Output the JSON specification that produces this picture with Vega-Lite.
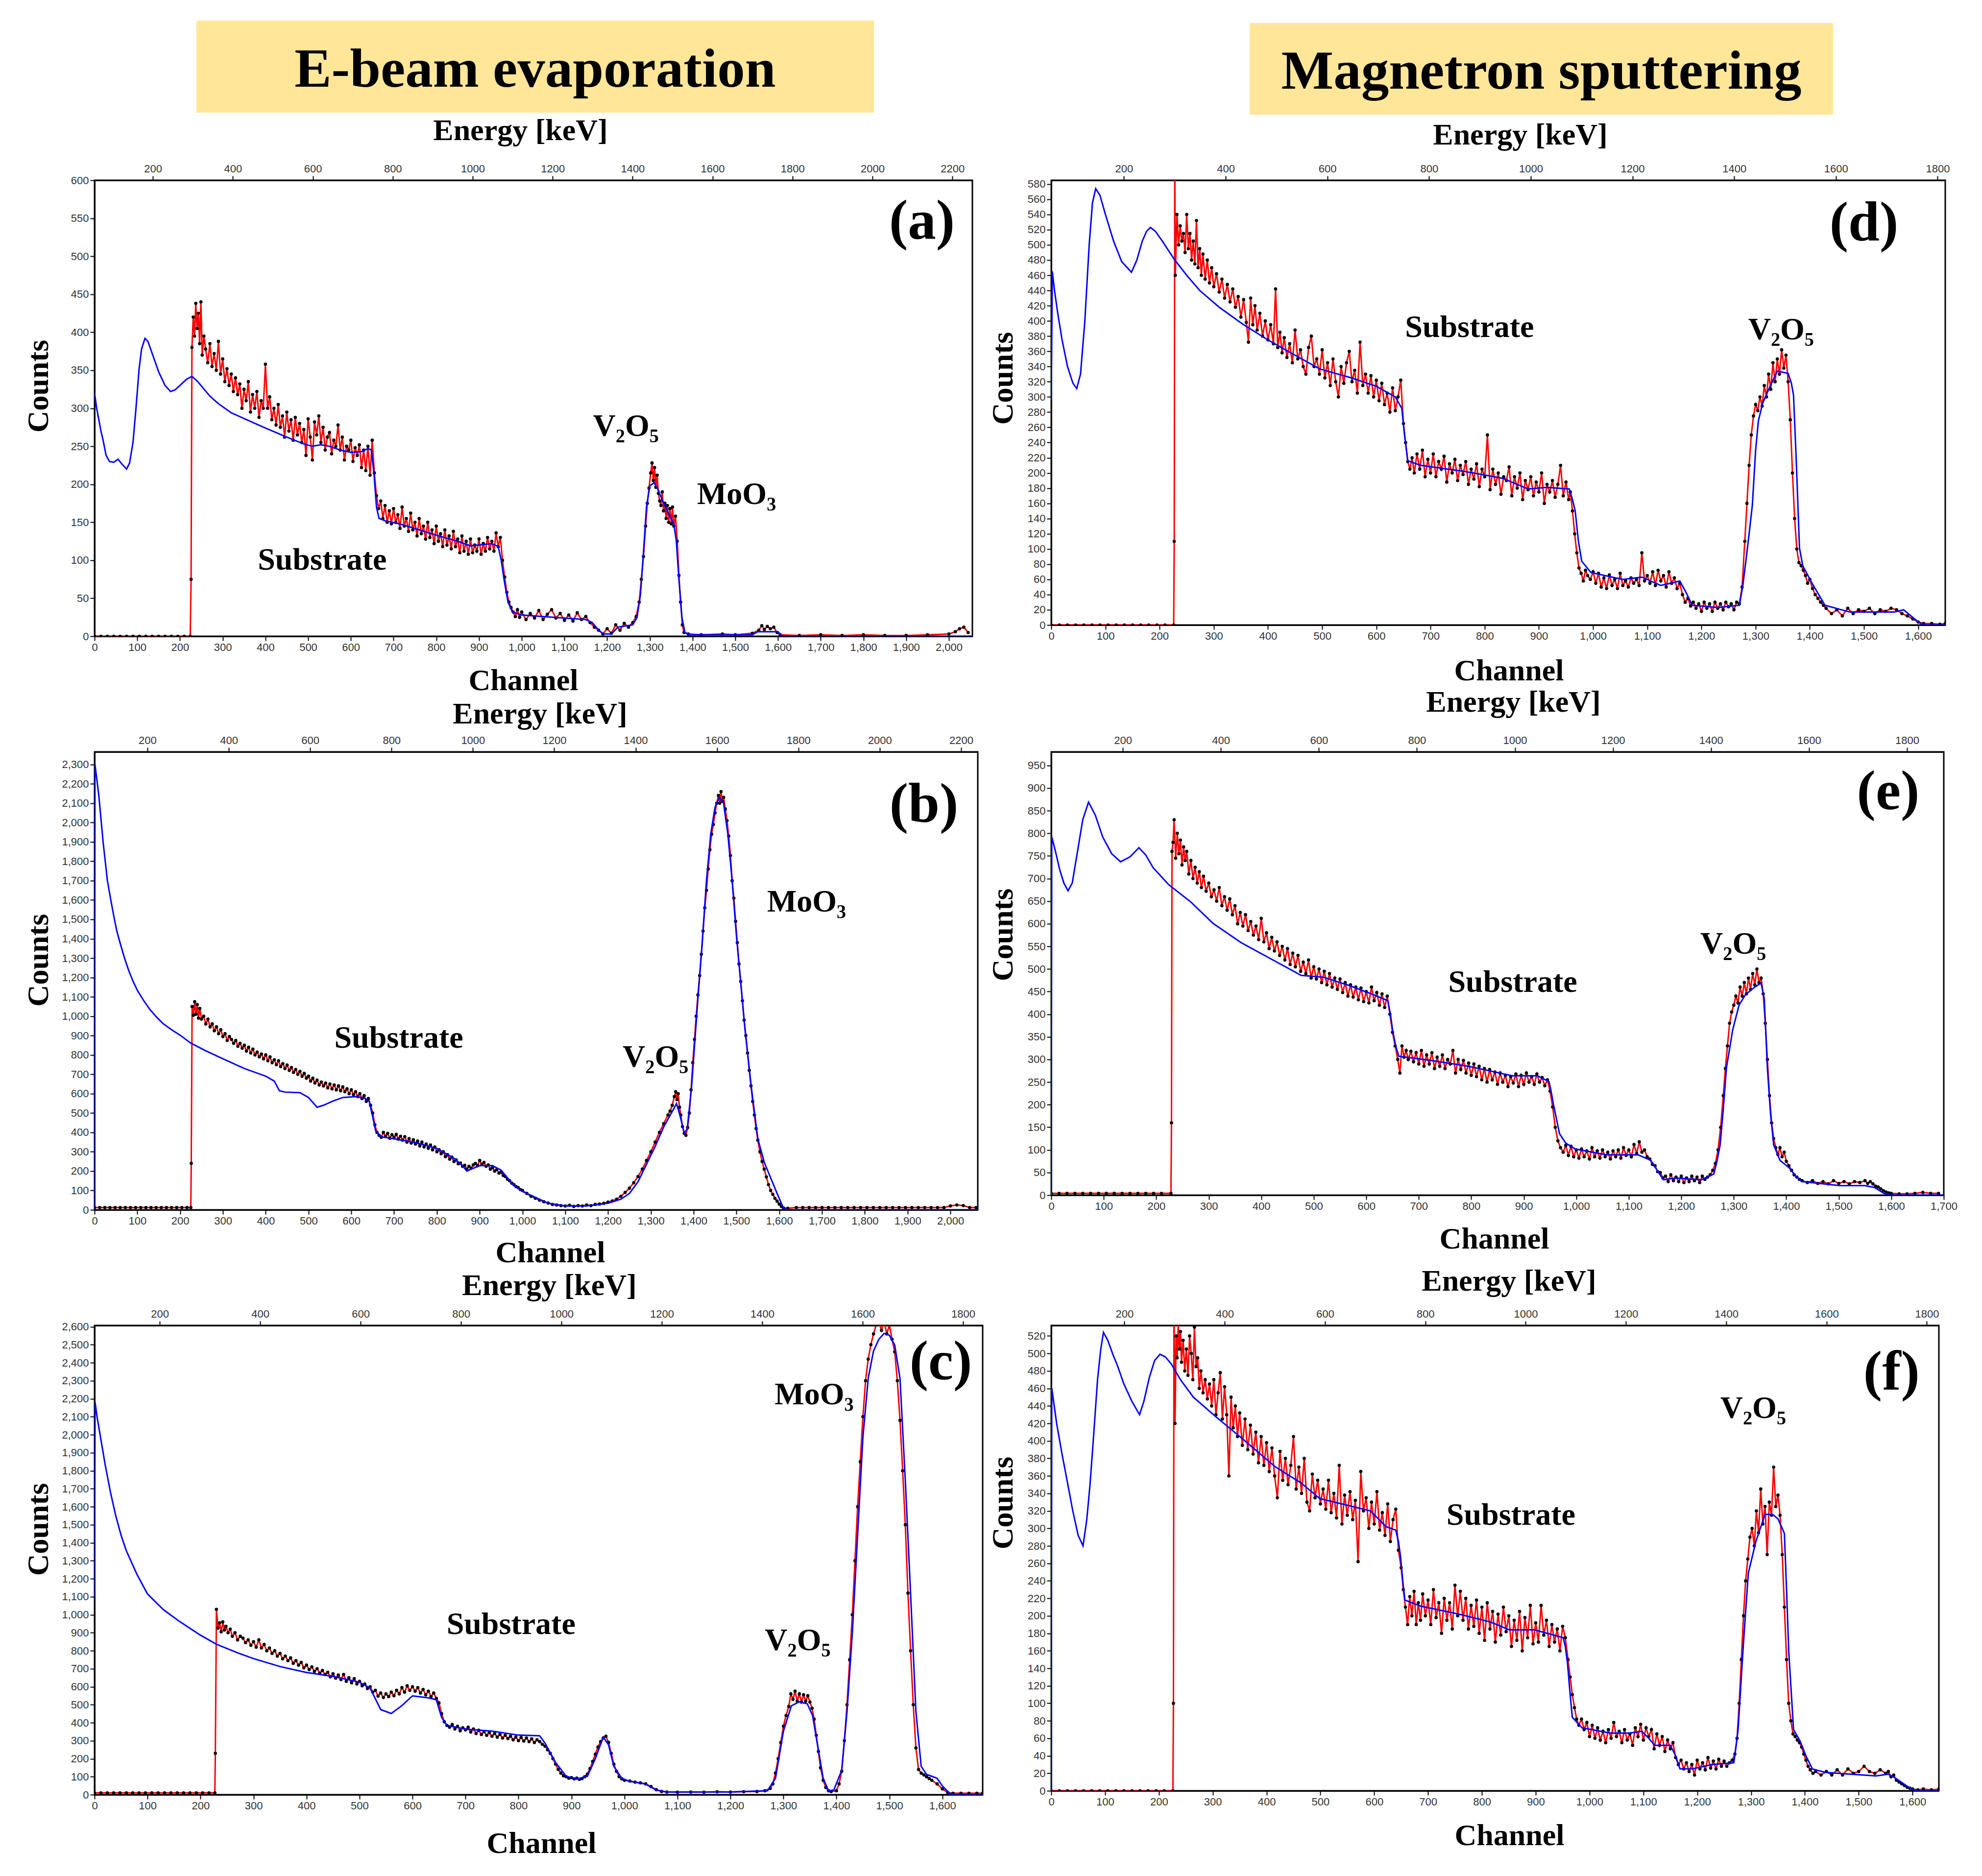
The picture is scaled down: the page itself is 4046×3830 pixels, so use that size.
{
  "$schema": "https://vega.github.io/schema/vega-lite/v6.json",
  "description": "RBS spectra: E-beam evaporation (a-c) vs magnetron sputtering (d-f)",
  "background": "white",
  "padding": {"left": 45, "top": 42, "right": 5, "bottom": 5},
  "columns": 2,
  "align": "each",
  "bounds": "flush",
  "spacing": {"row": 236, "column": 140},
  "concat": [
    {
      "width": 1813,
      "height": 90,
      "view": {"stroke": null},
      "layer": [
        {
          "data": {"values": [{}]},
          "mark": {"type": "rect", "color": "#FFE699"},
          "encoding": {
            "x": {"datum": 0.1147, "type": "quantitative", "scale": {"domain": [0, 1], "nice": false, "zero": false}, "axis": null},
            "x2": {"datum": 0.8776},
            "y": {"datum": 1, "type": "quantitative", "scale": {"domain": [0, 1], "nice": false, "zero": false}, "axis": null},
            "y2": {"datum": -1.089}
          }
        },
        {
          "data": {"values": [{"heading": "E-beam evaporation"}]},
          "mark": {"type": "text", "fontSize": 113, "baseline": "alphabetic"},
          "encoding": {
            "x": {"datum": 0.4961, "type": "quantitative"},
            "y": {"datum": -0.5, "type": "quantitative"},
            "text": {"field": "heading"}
          }
        }
      ]
    },
    {
      "width": 1825,
      "height": 90,
      "view": {"stroke": null},
      "layer": [
        {
          "data": {"values": [{}]},
          "mark": {"type": "rect", "color": "#FFE699"},
          "encoding": {
            "x": {"datum": 0.2219, "type": "quantitative", "scale": {"domain": [0, 1], "nice": false, "zero": false}, "axis": null},
            "x2": {"datum": 0.8745},
            "y": {"datum": 0.944, "type": "quantitative", "scale": {"domain": [0, 1], "nice": false, "zero": false}, "axis": null},
            "y2": {"datum": -1.133}
          }
        },
        {
          "data": {"values": [{"heading": "Magnetron sputtering"}]},
          "mark": {"type": "text", "fontSize": 113, "baseline": "alphabetic"},
          "encoding": {
            "x": {"datum": 0.5482, "type": "quantitative"},
            "y": {"datum": -0.544, "type": "quantitative"},
            "text": {"field": "heading"}
          }
        }
      ]
    },
    {
      "width": 1792,
      "height": 931,
      "layer": [
        {
          "encoding": {
            "x": {"field": "ch", "type": "quantitative", "scale": {"domain": [0, 2055], "nice": false, "zero": false},
              "axis": {"title": "Channel", "values": [0,100,200,300,400,500,600,700,800,900,1000,1100,1200,1300,1400,1500,1600,1700,1800,1900,2000], "format": ",d", "titleX": 875, "titleY": 109, "titleBaseline": "alphabetic"}},
            "y": {"field": "cts", "type": "quantitative", "scale": {"domain": [0, 600], "nice": false},
              "axis": {"title": "Counts", "values": [0,50,100,150,200,250,300,350,400,450,500,550,600], "format": ",d", "titleX": -96, "titleY": 420, "titleBaseline": "alphabetic"}}
          },
          "layer": [
            {"data": {"name": "a_exp"}, "mark": {"type": "line", "color": "#ff0000", "strokeWidth": 3, "clip": true}},
            {"data": {"name": "a_exp"}, "mark": {"type": "circle", "color": "#000000", "size": 45, "opacity": 1, "clip": true}},
            {"data": {"name": "a_sim"}, "mark": {"type": "line", "color": "#0000ff", "strokeWidth": 3, "clip": true}},
            {"data": {"name": "labels"}, "transform": [{"filter": "datum.panel === 'a' && datum.kind === 'note'"}], "mark": {"type": "text", "fontSize": 64}, "encoding": {"text": {"field": "label"}}},
            {"data": {"name": "labels"}, "transform": [{"filter": "datum.panel === 'a' && datum.kind === 'tag'"}], "mark": {"type": "text", "fontSize": 115}, "encoding": {"text": {"field": "label"}}}
          ]
        },
        {
          "data": {"values": [{}]},
          "mark": {"type": "rule", "opacity": 0},
          "encoding": {"x": {"datum": 1000, "type": "quantitative", "scale": {"domain": [54, 2250], "nice": false, "zero": false},
            "axis": {"orient": "top", "title": "Energy [keV]", "values": [200,400,600,800,1000,1200,1400,1600,1800,2000,2200], "format": "d", "titleX": 869, "titleY": -83, "titleBaseline": "alphabetic"}}}
        }
      ],
      "resolve": {"scale": {"x": "independent"}}
    },
    {
      "width": 1825,
      "height": 908,
      "layer": [
        {
          "encoding": {
            "x": {"field": "ch", "type": "quantitative", "scale": {"domain": [0, 1650], "nice": false, "zero": false},
              "axis": {"title": "Channel", "values": [0,100,200,300,400,500,600,700,800,900,1000,1100,1200,1300,1400,1500,1600], "format": ",d", "titleX": 934, "titleY": 112, "titleBaseline": "alphabetic"}},
            "y": {"field": "cts", "type": "quantitative", "scale": {"domain": [0, 585], "nice": false},
              "axis": {"title": "Counts", "values": [0,20,40,60,80,100,120,140,160,180,200,220,240,260,280,300,320,340,360,380,400,420,440,460,480,500,520,540,560,580], "format": ",d", "titleX": -80, "titleY": 404, "titleBaseline": "alphabetic"}}
          },
          "layer": [
            {"data": {"name": "d_exp"}, "mark": {"type": "line", "color": "#ff0000", "strokeWidth": 3, "clip": true}},
            {"data": {"name": "d_exp"}, "mark": {"type": "circle", "color": "#000000", "size": 45, "opacity": 1, "clip": true}},
            {"data": {"name": "d_sim"}, "mark": {"type": "line", "color": "#0000ff", "strokeWidth": 3, "clip": true}},
            {"data": {"name": "labels"}, "transform": [{"filter": "datum.panel === 'd' && datum.kind === 'note'"}], "mark": {"type": "text", "fontSize": 64}, "encoding": {"text": {"field": "label"}}},
            {"data": {"name": "labels"}, "transform": [{"filter": "datum.panel === 'd' && datum.kind === 'tag'"}], "mark": {"type": "text", "fontSize": 115}, "encoding": {"text": {"field": "label"}}}
          ]
        },
        {
          "data": {"values": [{}]},
          "mark": {"type": "rule", "opacity": 0},
          "encoding": {"x": {"datum": 1000, "type": "quantitative", "scale": {"domain": [57, 1815], "nice": false, "zero": false},
            "axis": {"orient": "top", "title": "Energy [keV]", "values": [200,400,600,800,1000,1200,1400,1600,1800], "format": "d", "titleX": 957, "titleY": -74, "titleBaseline": "alphabetic"}}}
        }
      ],
      "resolve": {"scale": {"x": "independent"}}
    },
    {
      "width": 1803,
      "height": 935,
      "layer": [
        {
          "encoding": {
            "x": {"field": "ch", "type": "quantitative", "scale": {"domain": [0, 2064], "nice": false, "zero": false},
              "axis": {"title": "Channel", "values": [0,100,200,300,400,500,600,700,800,900,1000,1100,1200,1300,1400,1500,1600,1700,1800,1900,2000], "format": ",d", "titleX": 930, "titleY": 106, "titleBaseline": "alphabetic"}},
            "y": {"field": "cts", "type": "quantitative", "scale": {"domain": [0, 2365], "nice": false},
              "axis": {"title": "Counts", "values": [0,100,200,300,400,500,600,700,800,900,1000,1100,1200,1300,1400,1500,1600,1700,1800,1900,2000,2100,2200,2300], "format": ",d", "titleX": -96, "titleY": 425, "titleBaseline": "alphabetic"}}
          },
          "layer": [
            {"data": {"name": "b_exp"}, "mark": {"type": "line", "color": "#ff0000", "strokeWidth": 3, "clip": true}},
            {"data": {"name": "b_exp"}, "mark": {"type": "circle", "color": "#000000", "size": 45, "opacity": 1, "clip": true}},
            {"data": {"name": "b_sim"}, "mark": {"type": "line", "color": "#0000ff", "strokeWidth": 3, "clip": true}},
            {"data": {"name": "labels"}, "transform": [{"filter": "datum.panel === 'b' && datum.kind === 'note'"}], "mark": {"type": "text", "fontSize": 64}, "encoding": {"text": {"field": "label"}}},
            {"data": {"name": "labels"}, "transform": [{"filter": "datum.panel === 'b' && datum.kind === 'tag'"}], "mark": {"type": "text", "fontSize": 115}, "encoding": {"text": {"field": "label"}}}
          ]
        },
        {
          "data": {"values": [{}]},
          "mark": {"type": "rule", "opacity": 0},
          "encoding": {"x": {"datum": 1000, "type": "quantitative", "scale": {"domain": [70, 2241], "nice": false, "zero": false},
            "axis": {"orient": "top", "title": "Energy [keV]", "values": [200,400,600,800,1000,1200,1400,1600,1800,2000,2200], "format": "d", "titleX": 909, "titleY": -59, "titleBaseline": "alphabetic"}}}
        }
      ],
      "resolve": {"scale": {"x": "independent"}}
    },
    {
      "width": 1822,
      "height": 905,
      "layer": [
        {
          "encoding": {
            "x": {"field": "ch", "type": "quantitative", "scale": {"domain": [0, 1700], "nice": false, "zero": false},
              "axis": {"title": "Channel", "values": [0,100,200,300,400,500,600,700,800,900,1000,1100,1200,1300,1400,1500,1600,1700], "format": ",d", "titleX": 904, "titleY": 108, "titleBaseline": "alphabetic"}},
            "y": {"field": "cts", "type": "quantitative", "scale": {"domain": [0, 980], "nice": false},
              "axis": {"title": "Counts", "values": [0,50,100,150,200,250,300,350,400,450,500,550,600,650,700,750,800,850,900,950], "format": ",d", "titleX": -80, "titleY": 373, "titleBaseline": "alphabetic"}}
          },
          "layer": [
            {"data": {"name": "e_exp"}, "mark": {"type": "line", "color": "#ff0000", "strokeWidth": 3, "clip": true}},
            {"data": {"name": "e_exp"}, "mark": {"type": "circle", "color": "#000000", "size": 45, "opacity": 1, "clip": true}},
            {"data": {"name": "e_sim"}, "mark": {"type": "line", "color": "#0000ff", "strokeWidth": 3, "clip": true}},
            {"data": {"name": "labels"}, "transform": [{"filter": "datum.panel === 'e' && datum.kind === 'note'"}], "mark": {"type": "text", "fontSize": 64}, "encoding": {"text": {"field": "label"}}},
            {"data": {"name": "labels"}, "transform": [{"filter": "datum.panel === 'e' && datum.kind === 'tag'"}], "mark": {"type": "text", "fontSize": 115}, "encoding": {"text": {"field": "label"}}}
          ]
        },
        {
          "data": {"values": [{}]},
          "mark": {"type": "rule", "opacity": 0},
          "encoding": {"x": {"datum": 1000, "type": "quantitative", "scale": {"domain": [54, 1875], "nice": false, "zero": false},
            "axis": {"orient": "top", "title": "Energy [keV]", "values": [200,400,600,800,1000,1200,1400,1600,1800], "format": "d", "titleX": 943, "titleY": -83, "titleBaseline": "alphabetic"}}}
        }
      ],
      "resolve": {"scale": {"x": "independent"}}
    },
    {
      "width": 1813,
      "height": 958,
      "layer": [
        {
          "encoding": {
            "x": {"field": "ch", "type": "quantitative", "scale": {"domain": [0, 1676], "nice": false, "zero": false},
              "axis": {"title": "Channel", "values": [0,100,200,300,400,500,600,700,800,900,1000,1100,1200,1300,1400,1500,1600], "format": ",d", "titleX": 912, "titleY": 118, "titleBaseline": "alphabetic"}},
            "y": {"field": "cts", "type": "quantitative", "scale": {"domain": [0, 2607], "nice": false},
              "axis": {"title": "Counts", "values": [0,100,200,300,400,500,600,700,800,900,1000,1100,1200,1300,1400,1500,1600,1700,1800,1900,2000,2100,2200,2300,2400,2500,2600], "format": ",d", "titleX": -96, "titleY": 416, "titleBaseline": "alphabetic"}}
          },
          "layer": [
            {"data": {"name": "c_exp"}, "mark": {"type": "line", "color": "#ff0000", "strokeWidth": 3, "clip": true}},
            {"data": {"name": "c_exp"}, "mark": {"type": "circle", "color": "#000000", "size": 45, "opacity": 1, "clip": true}},
            {"data": {"name": "c_sim"}, "mark": {"type": "line", "color": "#0000ff", "strokeWidth": 3, "clip": true}},
            {"data": {"name": "labels"}, "transform": [{"filter": "datum.panel === 'c' && datum.kind === 'note'"}], "mark": {"type": "text", "fontSize": 64}, "encoding": {"text": {"field": "label"}}},
            {"data": {"name": "labels"}, "transform": [{"filter": "datum.panel === 'c' && datum.kind === 'tag'"}], "mark": {"type": "text", "fontSize": 115}, "encoding": {"text": {"field": "label"}}}
          ]
        },
        {
          "data": {"values": [{}]},
          "mark": {"type": "rule", "opacity": 0},
          "encoding": {"x": {"datum": 1000, "type": "quantitative", "scale": {"domain": [70, 1839], "nice": false, "zero": false},
            "axis": {"orient": "top", "title": "Energy [keV]", "values": [200,400,600,800,1000,1200,1400,1600,1800], "format": "d", "titleX": 928, "titleY": -63, "titleBaseline": "alphabetic"}}}
        }
      ],
      "resolve": {"scale": {"x": "independent"}}
    },
    {
      "width": 1812,
      "height": 950,
      "layer": [
        {
          "encoding": {
            "x": {"field": "ch", "type": "quantitative", "scale": {"domain": [0, 1649], "nice": false, "zero": false},
              "axis": {"title": "Channel", "values": [0,100,200,300,400,500,600,700,800,900,1000,1100,1200,1300,1400,1500,1600], "format": ",d", "titleX": 935, "titleY": 110, "titleBaseline": "alphabetic"}},
            "y": {"field": "cts", "type": "quantitative", "scale": {"domain": [0, 532], "nice": false},
              "axis": {"title": "Counts", "values": [0,20,40,60,80,100,120,140,160,180,200,220,240,260,280,300,320,340,360,380,400,420,440,460,480,500,520], "format": ",d", "titleX": -80, "titleY": 362, "titleBaseline": "alphabetic"}}
          },
          "layer": [
            {"data": {"name": "f_exp"}, "mark": {"type": "line", "color": "#ff0000", "strokeWidth": 3, "clip": true}},
            {"data": {"name": "f_exp"}, "mark": {"type": "circle", "color": "#000000", "size": 45, "opacity": 1, "clip": true}},
            {"data": {"name": "f_sim"}, "mark": {"type": "line", "color": "#0000ff", "strokeWidth": 3, "clip": true}},
            {"data": {"name": "labels"}, "transform": [{"filter": "datum.panel === 'f' && datum.kind === 'note'"}], "mark": {"type": "text", "fontSize": 64}, "encoding": {"text": {"field": "label"}}},
            {"data": {"name": "labels"}, "transform": [{"filter": "datum.panel === 'f' && datum.kind === 'tag'"}], "mark": {"type": "text", "fontSize": 115}, "encoding": {"text": {"field": "label"}}}
          ]
        },
        {
          "data": {"values": [{}]},
          "mark": {"type": "rule", "opacity": 0},
          "encoding": {"x": {"datum": 1000, "type": "quantitative", "scale": {"domain": [54, 1824], "nice": false, "zero": false},
            "axis": {"orient": "top", "title": "Energy [keV]", "values": [200,400,600,800,1000,1200,1400,1600,1800], "format": "d", "titleX": 934, "titleY": -72, "titleBaseline": "alphabetic"}}}
        }
      ],
      "resolve": {"scale": {"x": "independent"}}
    }
  ],
  "datasets": {
    "labels": [
      {"panel": "a", "kind": "note", "label": "Substrate", "ch": 533, "cts": 100},
      {"panel": "a", "kind": "note", "label": "V₂O₅", "ch": 1244, "cts": 276},
      {"panel": "a", "kind": "note", "label": "MoO₃", "ch": 1503, "cts": 186},
      {"panel": "a", "kind": "tag", "label": "(a)", "ch": 1937, "cts": 546},
      {"panel": "b", "kind": "note", "label": "Substrate", "ch": 711, "cts": 885},
      {"panel": "b", "kind": "note", "label": "V₂O₅", "ch": 1311, "cts": 787},
      {"panel": "b", "kind": "note", "label": "MoO₃", "ch": 1664, "cts": 1589},
      {"panel": "b", "kind": "tag", "label": "(b)", "ch": 1938, "cts": 2092},
      {"panel": "c", "kind": "note", "label": "Substrate", "ch": 786, "cts": 945},
      {"panel": "c", "kind": "note", "label": "V₂O₅", "ch": 1327, "cts": 855},
      {"panel": "c", "kind": "note", "label": "MoO₃", "ch": 1358, "cts": 2221},
      {"panel": "c", "kind": "tag", "label": "(c)", "ch": 1597, "cts": 2404},
      {"panel": "d", "kind": "note", "label": "Substrate", "ch": 772, "cts": 391},
      {"panel": "d", "kind": "note", "label": "V₂O₅", "ch": 1347, "cts": 388},
      {"panel": "d", "kind": "tag", "label": "(d)", "ch": 1500, "cts": 528},
      {"panel": "e", "kind": "note", "label": "Substrate", "ch": 879, "cts": 470},
      {"panel": "e", "kind": "note", "label": "V₂O₅", "ch": 1299, "cts": 554},
      {"panel": "e", "kind": "tag", "label": "(e)", "ch": 1594, "cts": 891},
      {"panel": "f", "kind": "note", "label": "Substrate", "ch": 854, "cts": 315},
      {"panel": "f", "kind": "note", "label": "V₂O₅", "ch": 1304, "cts": 437},
      {"panel": "f", "kind": "tag", "label": "(f)", "ch": 1561, "cts": 478}
    ],
    "a_exp": [
      {"ch":0,"cts":0},{"ch":15,"cts":0},{"ch":30,"cts":0},{"ch":45,"cts":0},{"ch":60,"cts":0},{"ch":75,"cts":0},{"ch":90,"cts":0},{"ch":105,"cts":0},{"ch":120,"cts":0},{"ch":135,"cts":0},{"ch":150,"cts":0},{"ch":165,"cts":0},{"ch":180,"cts":0},{"ch":195,"cts":0},{"ch":210,"cts":0},{"ch":224,"cts":0},
      {"ch":226,"cts":75},{"ch":228,"cts":380},{"ch":231,"cts":420},{"ch":234,"cts":395},{"ch":237,"cts":438},{"ch":240,"cts":405},{"ch":243,"cts":425},{"ch":246,"cts":385},{"ch":249,"cts":440},{"ch":252,"cts":370},{"ch":256,"cts":395},{"ch":260,"cts":378},{"ch":265,"cts":360},{"ch":270,"cts":385},{"ch":275,"cts":355},{"ch":280,"cts":372},{"ch":285,"cts":350},{"ch":290,"cts":388},{"ch":295,"cts":345},{"ch":300,"cts":365},{"ch":305,"cts":335},{"ch":310,"cts":352},{"ch":315,"cts":330},{"ch":320,"cts":345},{"ch":325,"cts":322},{"ch":330,"cts":340},{"ch":335,"cts":318},{"ch":340,"cts":332},{"ch":345,"cts":300},{"ch":350,"cts":325},{"ch":355,"cts":310},{"ch":360,"cts":335},{"ch":365,"cts":295},{"ch":370,"cts":318},{"ch":375,"cts":300},{"ch":380,"cts":322},{"ch":385,"cts":288},{"ch":390,"cts":310},{"ch":395,"cts":300},{"ch":400,"cts":358},{"ch":405,"cts":300},{"ch":410,"cts":315},{"ch":415,"cts":285},{"ch":420,"cts":300},{"ch":425,"cts":278},{"ch":430,"cts":305},{"ch":435,"cts":275},{"ch":440,"cts":290},{"ch":445,"cts":262},{"ch":450,"cts":295},{"ch":455,"cts":270},{"ch":460,"cts":285},{"ch":465,"cts":258},{"ch":470,"cts":288},{"ch":475,"cts":265},{"ch":480,"cts":280},{"ch":485,"cts":255},{"ch":490,"cts":272},{"ch":495,"cts":238},{"ch":500,"cts":286},{"ch":505,"cts":262},{"ch":510,"cts":232},{"ch":515,"cts":282},{"ch":520,"cts":265},{"ch":525,"cts":290},{"ch":530,"cts":255},{"ch":535,"cts":275},{"ch":540,"cts":245},{"ch":545,"cts":262},{"ch":550,"cts":268},{"ch":555,"cts":240},{"ch":560,"cts":258},{"ch":565,"cts":250},{"ch":570,"cts":278},{"ch":575,"cts":245},{"ch":580,"cts":262},{"ch":585,"cts":232},{"ch":590,"cts":250},{"ch":595,"cts":245},{"ch":600,"cts":258},{"ch":605,"cts":230},{"ch":610,"cts":248},{"ch":615,"cts":238},{"ch":620,"cts":252},{"ch":625,"cts":222},{"ch":630,"cts":245},{"ch":635,"cts":218},{"ch":640,"cts":250},{"ch":645,"cts":212},{"ch":650,"cts":258},{"ch":655,"cts":215},{"ch":660,"cts":185},{"ch":665,"cts":168},{"ch":670,"cts":178},{"ch":675,"cts":155},{"ch":680,"cts":172},{"ch":685,"cts":150},{"ch":690,"cts":165},{"ch":695,"cts":148},{"ch":700,"cts":168},{"ch":705,"cts":150},{"ch":710,"cts":160},{"ch":715,"cts":142},{"ch":720,"cts":170},{"ch":725,"cts":145},{"ch":730,"cts":155},{"ch":735,"cts":138},{"ch":740,"cts":162},{"ch":745,"cts":140},{"ch":750,"cts":150},{"ch":755,"cts":132},{"ch":760,"cts":155},{"ch":765,"cts":135},{"ch":770,"cts":145},{"ch":775,"cts":128},{"ch":780,"cts":150},{"ch":785,"cts":130},{"ch":790,"cts":140},{"ch":795,"cts":122},{"ch":800,"cts":145},{"ch":805,"cts":125},{"ch":810,"cts":135},{"ch":815,"cts":118},{"ch":820,"cts":140},{"ch":825,"cts":120},{"ch":830,"cts":132},{"ch":835,"cts":115},{"ch":840,"cts":138},{"ch":845,"cts":118},{"ch":850,"cts":128},{"ch":855,"cts":110},{"ch":860,"cts":132},{"ch":865,"cts":112},{"ch":870,"cts":125},{"ch":875,"cts":108},{"ch":880,"cts":128},{"ch":885,"cts":110},{"ch":890,"cts":120},{"ch":895,"cts":112},{"ch":900,"cts":128},{"ch":905,"cts":108},{"ch":910,"cts":122},{"ch":915,"cts":112},{"ch":920,"cts":130},{"ch":925,"cts":115},{"ch":930,"cts":125},{"ch":935,"cts":112},{"ch":940,"cts":136},{"ch":945,"cts":118},{"ch":950,"cts":130},{"ch":955,"cts":100},{"ch":960,"cts":78},{"ch":965,"cts":58},{"ch":970,"cts":45},{"ch":975,"cts":38},{"ch":980,"cts":32},{"ch":985,"cts":26},{"ch":990,"cts":35},{"ch":995,"cts":25},{"ch":1000,"cts":32},{"ch":1010,"cts":22},{"ch":1020,"cts":30},{"ch":1030,"cts":24},{"ch":1040,"cts":34},{"ch":1050,"cts":22},{"ch":1060,"cts":29},{"ch":1070,"cts":35},{"ch":1080,"cts":24},{"ch":1090,"cts":30},{"ch":1100,"cts":21},{"ch":1110,"cts":28},{"ch":1120,"cts":20},{"ch":1130,"cts":31},{"ch":1140,"cts":22},{"ch":1150,"cts":26},{"ch":1160,"cts":18},{"ch":1170,"cts":12},{"ch":1180,"cts":8},{"ch":1190,"cts":3},{"ch":1200,"cts":10},{"ch":1210,"cts":4},{"ch":1220,"cts":15},{"ch":1230,"cts":8},{"ch":1240,"cts":17},{"ch":1250,"cts":12},{"ch":1260,"cts":18},{"ch":1268,"cts":26},{"ch":1275,"cts":45},{"ch":1280,"cts":75},{"ch":1285,"cts":105},{"ch":1290,"cts":145},{"ch":1294,"cts":175},{"ch":1298,"cts":195},{"ch":1302,"cts":215},{"ch":1305,"cts":228},{"ch":1308,"cts":205},{"ch":1311,"cts":222},{"ch":1314,"cts":196},{"ch":1317,"cts":212},{"ch":1320,"cts":188},{"ch":1323,"cts":178},{"ch":1326,"cts":172},{"ch":1329,"cts":190},{"ch":1332,"cts":165},{"ch":1335,"cts":175},{"ch":1338,"cts":155},{"ch":1341,"cts":172},{"ch":1344,"cts":150},{"ch":1347,"cts":168},{"ch":1350,"cts":148},{"ch":1353,"cts":170},{"ch":1356,"cts":145},{"ch":1360,"cts":158},{"ch":1364,"cts":125},{"ch":1368,"cts":80},{"ch":1372,"cts":45},{"ch":1376,"cts":15},{"ch":1380,"cts":5},{"ch":1390,"cts":3},{"ch":1420,"cts":2},{"ch":1470,"cts":3},{"ch":1500,"cts":2},{"ch":1540,"cts":4},{"ch":1555,"cts":8},{"ch":1562,"cts":14},{"ch":1568,"cts":9},{"ch":1575,"cts":13},{"ch":1582,"cts":10},{"ch":1590,"cts":12},{"ch":1598,"cts":5},{"ch":1605,"cts":2},{"ch":1650,"cts":1},{"ch":1700,"cts":2},{"ch":1750,"cts":1},{"ch":1800,"cts":2},{"ch":1850,"cts":1},{"ch":1900,"cts":1},{"ch":1950,"cts":2},{"ch":2000,"cts":3},{"ch":2015,"cts":6},{"ch":2025,"cts":10},{"ch":2035,"cts":12},{"ch":2045,"cts":5}
    ],
    "a_sim": [
      {"ch":0,"cts":320},{"ch":5,"cts":300},{"ch":10,"cts":285},{"ch":15,"cts":270},{"ch":20,"cts":258},{"ch":27,"cts":238},{"ch":35,"cts":230},{"ch":45,"cts":229},{"ch":55,"cts":233},{"ch":65,"cts":226},{"ch":75,"cts":220},{"ch":82,"cts":228},{"ch":90,"cts":255},{"ch":97,"cts":300},{"ch":104,"cts":350},{"ch":110,"cts":378},{"ch":118,"cts":392},{"ch":125,"cts":388},{"ch":135,"cts":372},{"ch":150,"cts":348},{"ch":165,"cts":330},{"ch":178,"cts":322},{"ch":188,"cts":324},{"ch":200,"cts":330},{"ch":215,"cts":338},{"ch":228,"cts":342},{"ch":240,"cts":336},{"ch":255,"cts":326},{"ch":270,"cts":316},{"ch":290,"cts":306},{"ch":320,"cts":294},{"ch":360,"cts":284},{"ch":400,"cts":274},{"ch":450,"cts":262},{"ch":490,"cts":253},{"ch":510,"cts":250},{"ch":530,"cts":252},{"ch":550,"cts":250},{"ch":575,"cts":245},{"ch":600,"cts":242},{"ch":625,"cts":243},{"ch":640,"cts":247},{"ch":648,"cts":245},{"ch":654,"cts":215},{"ch":660,"cts":170},{"ch":666,"cts":155},{"ch":680,"cts":152},{"ch":720,"cts":147},{"ch":760,"cts":140},{"ch":800,"cts":133},{"ch":850,"cts":125},{"ch":880,"cts":119},{"ch":900,"cts":120},{"ch":930,"cts":122},{"ch":945,"cts":118},{"ch":952,"cts":100},{"ch":960,"cts":70},{"ch":968,"cts":45},{"ch":978,"cts":32},{"ch":1000,"cts":28},{"ch":1050,"cts":26},{"ch":1100,"cts":24},{"ch":1150,"cts":22},{"ch":1165,"cts":18},{"ch":1180,"cts":8},{"ch":1192,"cts":3},{"ch":1210,"cts":3},{"ch":1225,"cts":12},{"ch":1260,"cts":15},{"ch":1270,"cts":25},{"ch":1278,"cts":55},{"ch":1285,"cts":110},{"ch":1292,"cts":170},{"ch":1300,"cts":198},{"ch":1310,"cts":202},{"ch":1320,"cts":192},{"ch":1330,"cts":178},{"ch":1345,"cts":160},{"ch":1356,"cts":148},{"ch":1362,"cts":125},{"ch":1368,"cts":75},{"ch":1375,"cts":25},{"ch":1382,"cts":5},{"ch":1395,"cts":2},{"ch":1540,"cts":2},{"ch":1552,"cts":6},{"ch":1600,"cts":6},{"ch":1608,"cts":1},{"ch":1620,"cts":0},{"ch":2055,"cts":0}
    ],
    "b_exp": [
      {"ch":0,"cts":12},{"ch":12,"cts":12},{"ch":24,"cts":12},{"ch":36,"cts":12},{"ch":48,"cts":12},{"ch":60,"cts":12},{"ch":72,"cts":12},{"ch":84,"cts":12},{"ch":96,"cts":12},{"ch":108,"cts":12},{"ch":120,"cts":12},{"ch":132,"cts":12},{"ch":144,"cts":12},{"ch":156,"cts":12},{"ch":168,"cts":12},{"ch":180,"cts":12},{"ch":192,"cts":12},{"ch":204,"cts":12},{"ch":216,"cts":12},{"ch":225,"cts":12},
      {"ch":226,"cts":240},{"ch":228,"cts":1050},{"ch":231,"cts":1005},{"ch":234,"cts":1075},{"ch":237,"cts":1010},{"ch":240,"cts":1060},{"ch":243,"cts":990},{"ch":246,"cts":1040},{"ch":250,"cts":985},{"ch":255,"cts":1000},{"ch":260,"cts":960},{"ch":265,"cts":985},{"ch":270,"cts":945},{"ch":275,"cts":960},{"ch":280,"cts":925},{"ch":285,"cts":945},{"ch":290,"cts":910},{"ch":295,"cts":930},{"ch":300,"cts":895},{"ch":305,"cts":910},{"ch":310,"cts":875},{"ch":315,"cts":895},{"ch":320,"cts":880},{"ch":325,"cts":860},{"ch":330,"cts":875},{"ch":335,"cts":845},{"ch":340,"cts":860},{"ch":345,"cts":835},{"ch":350,"cts":850},{"ch":355,"cts":820},{"ch":360,"cts":840},{"ch":365,"cts":810},{"ch":370,"cts":830},{"ch":375,"cts":800},{"ch":380,"cts":815},{"ch":385,"cts":790},{"ch":390,"cts":805},{"ch":395,"cts":780},{"ch":400,"cts":800},{"ch":405,"cts":770},{"ch":410,"cts":790},{"ch":415,"cts":760},{"ch":420,"cts":775},{"ch":425,"cts":750},{"ch":430,"cts":770},{"ch":435,"cts":740},{"ch":440,"cts":755},{"ch":445,"cts":730},{"ch":450,"cts":748},{"ch":455,"cts":720},{"ch":460,"cts":735},{"ch":465,"cts":710},{"ch":470,"cts":725},{"ch":475,"cts":700},{"ch":480,"cts":715},{"ch":485,"cts":690},{"ch":490,"cts":705},{"ch":495,"cts":680},{"ch":500,"cts":690},{"ch":505,"cts":665},{"ch":510,"cts":680},{"ch":515,"cts":655},{"ch":520,"cts":670},{"ch":525,"cts":645},{"ch":530,"cts":660},{"ch":535,"cts":640},{"ch":540,"cts":655},{"ch":545,"cts":630},{"ch":550,"cts":650},{"ch":555,"cts":625},{"ch":560,"cts":645},{"ch":565,"cts":620},{"ch":570,"cts":640},{"ch":575,"cts":615},{"ch":580,"cts":635},{"ch":585,"cts":610},{"ch":590,"cts":625},{"ch":595,"cts":600},{"ch":600,"cts":620},{"ch":605,"cts":595},{"ch":610,"cts":610},{"ch":615,"cts":585},{"ch":620,"cts":600},{"ch":625,"cts":575},{"ch":630,"cts":590},{"ch":635,"cts":560},{"ch":640,"cts":575},{"ch":645,"cts":540},{"ch":650,"cts":500},{"ch":655,"cts":440},{"ch":660,"cts":400},{"ch":665,"cts":385},{"ch":670,"cts":375},{"ch":675,"cts":400},{"ch":680,"cts":380},{"ch":685,"cts":395},{"ch":690,"cts":370},{"ch":695,"cts":388},{"ch":700,"cts":375},{"ch":705,"cts":390},{"ch":710,"cts":365},{"ch":715,"cts":380},{"ch":720,"cts":360},{"ch":725,"cts":378},{"ch":730,"cts":350},{"ch":735,"cts":368},{"ch":740,"cts":345},{"ch":745,"cts":362},{"ch":750,"cts":340},{"ch":755,"cts":355},{"ch":760,"cts":330},{"ch":765,"cts":350},{"ch":770,"cts":325},{"ch":775,"cts":340},{"ch":780,"cts":318},{"ch":785,"cts":335},{"ch":790,"cts":310},{"ch":795,"cts":325},{"ch":800,"cts":300},{"ch":805,"cts":310},{"ch":810,"cts":290},{"ch":815,"cts":300},{"ch":820,"cts":275},{"ch":825,"cts":285},{"ch":830,"cts":262},{"ch":835,"cts":272},{"ch":840,"cts":250},{"ch":845,"cts":258},{"ch":850,"cts":238},{"ch":855,"cts":242},{"ch":860,"cts":225},{"ch":865,"cts":230},{"ch":870,"cts":210},{"ch":875,"cts":225},{"ch":880,"cts":215},{"ch":885,"cts":232},{"ch":890,"cts":240},{"ch":895,"cts":228},{"ch":900,"cts":255},{"ch":905,"cts":235},{"ch":910,"cts":245},{"ch":915,"cts":225},{"ch":920,"cts":232},{"ch":925,"cts":210},{"ch":930,"cts":218},{"ch":935,"cts":200},{"ch":940,"cts":208},{"ch":945,"cts":190},{"ch":950,"cts":195},{"ch":955,"cts":178},{"ch":960,"cts":172},{"ch":965,"cts":158},{"ch":970,"cts":150},{"ch":975,"cts":138},{"ch":980,"cts":130},{"ch":985,"cts":120},{"ch":990,"cts":115},{"ch":995,"cts":105},{"ch":1000,"cts":100},{"ch":1010,"cts":85},{"ch":1020,"cts":70},{"ch":1030,"cts":60},{"ch":1040,"cts":50},{"ch":1050,"cts":42},{"ch":1060,"cts":35},{"ch":1070,"cts":28},{"ch":1080,"cts":25},{"ch":1090,"cts":22},{"ch":1100,"cts":20},{"ch":1110,"cts":24},{"ch":1120,"cts":18},{"ch":1130,"cts":22},{"ch":1140,"cts":20},{"ch":1150,"cts":25},{"ch":1160,"cts":22},{"ch":1170,"cts":28},{"ch":1180,"cts":30},{"ch":1190,"cts":34},{"ch":1200,"cts":40},{"ch":1210,"cts":46},{"ch":1220,"cts":55},{"ch":1230,"cts":70},{"ch":1240,"cts":90},{"ch":1250,"cts":112},{"ch":1260,"cts":140},{"ch":1270,"cts":172},{"ch":1280,"cts":210},{"ch":1290,"cts":255},{"ch":1300,"cts":300},{"ch":1310,"cts":350},{"ch":1320,"cts":400},{"ch":1330,"cts":445},{"ch":1340,"cts":490},{"ch":1345,"cts":510},{"ch":1350,"cts":540},{"ch":1355,"cts":585},{"ch":1358,"cts":610},{"ch":1361,"cts":570},{"ch":1364,"cts":600},{"ch":1367,"cts":530},{"ch":1370,"cts":490},{"ch":1374,"cts":430},{"ch":1378,"cts":395},{"ch":1382,"cts":385},{"ch":1386,"cts":425},{"ch":1390,"cts":500},{"ch":1394,"cts":620},{"ch":1398,"cts":760},{"ch":1402,"cts":880},{"ch":1406,"cts":1000},{"ch":1410,"cts":1110},{"ch":1414,"cts":1210},{"ch":1418,"cts":1320},{"ch":1422,"cts":1440},{"ch":1426,"cts":1560},{"ch":1430,"cts":1650},{"ch":1434,"cts":1760},{"ch":1438,"cts":1860},{"ch":1442,"cts":1940},{"ch":1446,"cts":1990},{"ch":1450,"cts":2050},{"ch":1454,"cts":2100},{"ch":1458,"cts":2140},{"ch":1461,"cts":2100},{"ch":1464,"cts":2160},{"ch":1467,"cts":2110},{"ch":1470,"cts":2130},{"ch":1474,"cts":2070},{"ch":1478,"cts":2010},{"ch":1482,"cts":1930},{"ch":1486,"cts":1830},{"ch":1490,"cts":1700},{"ch":1494,"cts":1610},{"ch":1498,"cts":1490},{"ch":1502,"cts":1380},{"ch":1506,"cts":1270},{"ch":1510,"cts":1180},{"ch":1514,"cts":1080},{"ch":1518,"cts":980},{"ch":1522,"cts":900},{"ch":1526,"cts":810},{"ch":1530,"cts":720},{"ch":1534,"cts":640},{"ch":1538,"cts":560},{"ch":1542,"cts":490},{"ch":1546,"cts":420},{"ch":1550,"cts":360},{"ch":1555,"cts":300},{"ch":1560,"cts":250},{"ch":1565,"cts":210},{"ch":1570,"cts":170},{"ch":1575,"cts":130},{"ch":1580,"cts":100},{"ch":1585,"cts":80},{"ch":1590,"cts":60},{"ch":1595,"cts":45},{"ch":1600,"cts":30},{"ch":1605,"cts":18},{"ch":1610,"cts":10},{"ch":1620,"cts":8},{"ch":1640,"cts":12},{"ch":1655,"cts":12},{"ch":1670,"cts":12},{"ch":1685,"cts":12},{"ch":1700,"cts":12},{"ch":1715,"cts":12},{"ch":1730,"cts":12},{"ch":1745,"cts":12},{"ch":1760,"cts":12},{"ch":1775,"cts":12},{"ch":1790,"cts":12},{"ch":1805,"cts":12},{"ch":1820,"cts":12},{"ch":1835,"cts":12},{"ch":1850,"cts":12},{"ch":1865,"cts":12},{"ch":1880,"cts":12},{"ch":1895,"cts":12},{"ch":1910,"cts":12},{"ch":1925,"cts":12},{"ch":1940,"cts":12},{"ch":1955,"cts":12},{"ch":1970,"cts":12},{"ch":1985,"cts":12},{"ch":2000,"cts":20},{"ch":2015,"cts":25},{"ch":2030,"cts":22},{"ch":2045,"cts":12},{"ch":2060,"cts":12}
    ],
    "b_sim": [
      {"ch":0,"cts":0},{"ch":1,"cts":2300},{"ch":5,"cts":2230},{"ch":10,"cts":2140},{"ch":15,"cts":2020},{"ch":20,"cts":1900},{"ch":25,"cts":1800},{"ch":30,"cts":1700},{"ch":38,"cts":1600},{"ch":45,"cts":1517},{"ch":52,"cts":1440},{"ch":60,"cts":1376},{"ch":70,"cts":1300},{"ch":80,"cts":1235},{"ch":90,"cts":1180},{"ch":100,"cts":1134},{"ch":115,"cts":1080},{"ch":130,"cts":1033},{"ch":145,"cts":995},{"ch":160,"cts":962},{"ch":180,"cts":930},{"ch":200,"cts":902},{"ch":225,"cts":861},{"ch":260,"cts":821},{"ch":300,"cts":780},{"ch":350,"cts":730},{"ch":400,"cts":690},{"ch":420,"cts":665},{"ch":432,"cts":615},{"ch":445,"cts":608},{"ch":480,"cts":605},{"ch":500,"cts":580},{"ch":520,"cts":530},{"ch":535,"cts":540},{"ch":555,"cts":560},{"ch":580,"cts":580},{"ch":610,"cts":585},{"ch":630,"cts":578},{"ch":642,"cts":560},{"ch":650,"cts":480},{"ch":657,"cts":408},{"ch":670,"cts":377},{"ch":700,"cts":367},{"ch":750,"cts":347},{"ch":800,"cts":317},{"ch":840,"cts":266},{"ch":860,"cts":228},{"ch":870,"cts":200},{"ch":880,"cts":210},{"ch":900,"cts":228},{"ch":930,"cts":228},{"ch":950,"cts":205},{"ch":965,"cts":165},{"ch":980,"cts":125},{"ch":1000,"cts":95},{"ch":1030,"cts":65},{"ch":1060,"cts":34},{"ch":1100,"cts":20},{"ch":1150,"cts":20},{"ch":1200,"cts":34},{"ch":1230,"cts":55},{"ch":1250,"cts":85},{"ch":1270,"cts":145},{"ch":1290,"cts":236},{"ch":1310,"cts":327},{"ch":1330,"cts":428},{"ch":1350,"cts":508},{"ch":1360,"cts":549},{"ch":1368,"cts":488},{"ch":1378,"cts":397},{"ch":1385,"cts":418},{"ch":1395,"cts":630},{"ch":1410,"cts":1093},{"ch":1420,"cts":1376},{"ch":1430,"cts":1700},{"ch":1440,"cts":1940},{"ch":1450,"cts":2080},{"ch":1460,"cts":2130},{"ch":1470,"cts":2100},{"ch":1480,"cts":1940},{"ch":1490,"cts":1700},{"ch":1500,"cts":1416},{"ch":1510,"cts":1174},{"ch":1520,"cts":932},{"ch":1535,"cts":630},{"ch":1550,"cts":367},{"ch":1565,"cts":246},{"ch":1580,"cts":165},{"ch":1595,"cts":85},{"ch":1610,"cts":8},{"ch":1620,"cts":0},{"ch":2064,"cts":0}
    ],
    "c_exp": [
      {"ch":0,"cts":10},{"ch":12,"cts":10},{"ch":24,"cts":10},{"ch":36,"cts":10},{"ch":48,"cts":10},{"ch":60,"cts":10},{"ch":72,"cts":10},{"ch":84,"cts":10},{"ch":96,"cts":10},{"ch":108,"cts":10},{"ch":120,"cts":10},{"ch":132,"cts":10},{"ch":144,"cts":10},{"ch":156,"cts":10},{"ch":168,"cts":10},{"ch":180,"cts":10},{"ch":192,"cts":10},{"ch":204,"cts":10},{"ch":216,"cts":10},{"ch":227,"cts":10},
      {"ch":228,"cts":230},{"ch":230,"cts":1030},{"ch":233,"cts":925},{"ch":236,"cts":955},{"ch":239,"cts":905},{"ch":242,"cts":960},{"ch":245,"cts":915},{"ch":248,"cts":935},{"ch":252,"cts":900},{"ch":256,"cts":920},{"ch":260,"cts":880},{"ch":265,"cts":900},{"ch":270,"cts":860},{"ch":275,"cts":880},{"ch":280,"cts":870},{"ch":285,"cts":845},{"ch":290,"cts":860},{"ch":295,"cts":830},{"ch":300,"cts":850},{"ch":305,"cts":820},{"ch":310,"cts":860},{"ch":315,"cts":815},{"ch":320,"cts":835},{"ch":325,"cts":800},{"ch":330,"cts":815},{"ch":335,"cts":785},{"ch":340,"cts":800},{"ch":345,"cts":770},{"ch":350,"cts":785},{"ch":355,"cts":755},{"ch":360,"cts":770},{"ch":365,"cts":745},{"ch":370,"cts":760},{"ch":375,"cts":730},{"ch":380,"cts":745},{"ch":385,"cts":720},{"ch":390,"cts":735},{"ch":395,"cts":705},{"ch":400,"cts":720},{"ch":405,"cts":695},{"ch":410,"cts":710},{"ch":415,"cts":685},{"ch":420,"cts":700},{"ch":425,"cts":675},{"ch":430,"cts":690},{"ch":435,"cts":668},{"ch":440,"cts":680},{"ch":445,"cts":655},{"ch":450,"cts":672},{"ch":455,"cts":648},{"ch":460,"cts":665},{"ch":465,"cts":640},{"ch":470,"cts":668},{"ch":475,"cts":630},{"ch":480,"cts":650},{"ch":485,"cts":622},{"ch":490,"cts":645},{"ch":495,"cts":615},{"ch":500,"cts":630},{"ch":505,"cts":605},{"ch":510,"cts":615},{"ch":515,"cts":590},{"ch":520,"cts":600},{"ch":525,"cts":570},{"ch":530,"cts":580},{"ch":535,"cts":548},{"ch":540,"cts":565},{"ch":545,"cts":540},{"ch":550,"cts":560},{"ch":555,"cts":545},{"ch":560,"cts":570},{"ch":565,"cts":550},{"ch":570,"cts":580},{"ch":575,"cts":560},{"ch":580,"cts":595},{"ch":585,"cts":570},{"ch":590,"cts":605},{"ch":595,"cts":580},{"ch":600,"cts":600},{"ch":605,"cts":575},{"ch":610,"cts":595},{"ch":615,"cts":565},{"ch":620,"cts":585},{"ch":625,"cts":555},{"ch":630,"cts":575},{"ch":635,"cts":545},{"ch":640,"cts":565},{"ch":645,"cts":535},{"ch":650,"cts":510},{"ch":655,"cts":450},{"ch":660,"cts":405},{"ch":665,"cts":385},{"ch":670,"cts":375},{"ch":675,"cts":390},{"ch":680,"cts":365},{"ch":685,"cts":380},{"ch":690,"cts":355},{"ch":695,"cts":372},{"ch":700,"cts":360},{"ch":705,"cts":375},{"ch":710,"cts":348},{"ch":715,"cts":365},{"ch":720,"cts":340},{"ch":725,"cts":358},{"ch":730,"cts":335},{"ch":735,"cts":350},{"ch":740,"cts":330},{"ch":745,"cts":345},{"ch":750,"cts":325},{"ch":755,"cts":340},{"ch":760,"cts":320},{"ch":765,"cts":335},{"ch":770,"cts":315},{"ch":775,"cts":330},{"ch":780,"cts":312},{"ch":785,"cts":325},{"ch":790,"cts":305},{"ch":795,"cts":320},{"ch":800,"cts":300},{"ch":805,"cts":318},{"ch":810,"cts":298},{"ch":815,"cts":315},{"ch":820,"cts":295},{"ch":825,"cts":310},{"ch":830,"cts":290},{"ch":835,"cts":305},{"ch":840,"cts":295},{"ch":845,"cts":280},{"ch":850,"cts":270},{"ch":855,"cts":250},{"ch":860,"cts":230},{"ch":865,"cts":200},{"ch":870,"cts":170},{"ch":875,"cts":140},{"ch":880,"cts":120},{"ch":885,"cts":105},{"ch":890,"cts":100},{"ch":895,"cts":92},{"ch":900,"cts":95},{"ch":905,"cts":88},{"ch":910,"cts":92},{"ch":915,"cts":85},{"ch":920,"cts":90},{"ch":925,"cts":100},{"ch":930,"cts":115},{"ch":935,"cts":145},{"ch":940,"cts":185},{"ch":945,"cts":225},{"ch":950,"cts":265},{"ch":955,"cts":295},{"ch":960,"cts":315},{"ch":965,"cts":325},{"ch":970,"cts":290},{"ch":975,"cts":230},{"ch":980,"cts":170},{"ch":985,"cts":130},{"ch":990,"cts":100},{"ch":995,"cts":88},{"ch":1000,"cts":80},{"ch":1010,"cts":76},{"ch":1020,"cts":70},{"ch":1030,"cts":66},{"ch":1040,"cts":60},{"ch":1050,"cts":45},{"ch":1060,"cts":28},{"ch":1070,"cts":18},{"ch":1080,"cts":15},{"ch":1100,"cts":14},{"ch":1125,"cts":15},{"ch":1150,"cts":14},{"ch":1175,"cts":16},{"ch":1200,"cts":15},{"ch":1225,"cts":17},{"ch":1250,"cts":18},{"ch":1265,"cts":22},{"ch":1275,"cts":35},{"ch":1280,"cts":60},{"ch":1285,"cts":120},{"ch":1290,"cts":200},{"ch":1295,"cts":290},{"ch":1300,"cts":380},{"ch":1305,"cts":440},{"ch":1310,"cts":490},{"ch":1314,"cts":560},{"ch":1318,"cts":530},{"ch":1322,"cts":575},{"ch":1326,"cts":520},{"ch":1330,"cts":560},{"ch":1334,"cts":515},{"ch":1338,"cts":555},{"ch":1342,"cts":520},{"ch":1346,"cts":550},{"ch":1350,"cts":515},{"ch":1354,"cts":480},{"ch":1358,"cts":420},{"ch":1362,"cts":330},{"ch":1366,"cts":240},{"ch":1370,"cts":150},{"ch":1375,"cts":80},{"ch":1380,"cts":40},{"ch":1385,"cts":22},{"ch":1390,"cts":18},{"ch":1400,"cts":22},{"ch":1405,"cts":60},{"ch":1410,"cts":130},{"ch":1415,"cts":300},{"ch":1420,"cts":500},{"ch":1425,"cts":750},{"ch":1430,"cts":1000},{"ch":1435,"cts":1300},{"ch":1440,"cts":1600},{"ch":1445,"cts":1850},{"ch":1450,"cts":2100},{"ch":1455,"cts":2300},{"ch":1460,"cts":2420},{"ch":1465,"cts":2500},{"ch":1470,"cts":2560},{"ch":1475,"cts":2610},{"ch":1480,"cts":2630},{"ch":1485,"cts":2580},{"ch":1490,"cts":2630},{"ch":1495,"cts":2560},{"ch":1500,"cts":2610},{"ch":1505,"cts":2530},{"ch":1510,"cts":2460},{"ch":1515,"cts":2300},{"ch":1520,"cts":2080},{"ch":1525,"cts":1800},{"ch":1530,"cts":1500},{"ch":1535,"cts":1120},{"ch":1540,"cts":800},{"ch":1545,"cts":500},{"ch":1550,"cts":260},{"ch":1555,"cts":140},{"ch":1560,"cts":120},{"ch":1565,"cts":110},{"ch":1570,"cts":100},{"ch":1575,"cts":90},{"ch":1580,"cts":80},{"ch":1590,"cts":60},{"ch":1600,"cts":32},{"ch":1610,"cts":12},{"ch":1620,"cts":8},{"ch":1635,"cts":8},{"ch":1650,"cts":8},{"ch":1665,"cts":8},{"ch":1676,"cts":8}
    ],
    "c_sim": [
      {"ch":0,"cts":1100},{"ch":1,"cts":2180},{"ch":5,"cts":2095},{"ch":10,"cts":2008},{"ch":20,"cts":1834},{"ch":30,"cts":1681},{"ch":40,"cts":1550},{"ch":50,"cts":1442},{"ch":60,"cts":1355},{"ch":80,"cts":1224},{"ch":100,"cts":1115},{"ch":130,"cts":1028},{"ch":160,"cts":963},{"ch":200,"cts":886},{"ch":230,"cts":836},{"ch":270,"cts":788},{"ch":300,"cts":756},{"ch":350,"cts":712},{"ch":400,"cts":679},{"ch":450,"cts":657},{"ch":500,"cts":625},{"ch":520,"cts":592},{"ch":540,"cts":473},{"ch":560,"cts":451},{"ch":580,"cts":495},{"ch":600,"cts":549},{"ch":630,"cts":538},{"ch":645,"cts":527},{"ch":655,"cts":429},{"ch":665,"cts":385},{"ch":700,"cts":364},{"ch":750,"cts":353},{"ch":800,"cts":331},{"ch":840,"cts":327},{"ch":850,"cts":287},{"ch":870,"cts":179},{"ch":890,"cts":102},{"ch":910,"cts":87},{"ch":930,"cts":102},{"ch":945,"cts":200},{"ch":960,"cts":320},{"ch":970,"cts":277},{"ch":980,"cts":157},{"ch":995,"cts":91},{"ch":1010,"cts":74},{"ch":1040,"cts":59},{"ch":1060,"cts":26},{"ch":1080,"cts":15},{"ch":1200,"cts":15},{"ch":1270,"cts":22},{"ch":1285,"cts":91},{"ch":1300,"cts":353},{"ch":1315,"cts":494},{"ch":1330,"cts":516},{"ch":1345,"cts":505},{"ch":1355,"cts":440},{"ch":1365,"cts":266},{"ch":1375,"cts":91},{"ch":1385,"cts":22},{"ch":1395,"cts":26},{"ch":1410,"cts":135},{"ch":1420,"cts":462},{"ch":1430,"cts":897},{"ch":1440,"cts":1442},{"ch":1450,"cts":1986},{"ch":1460,"cts":2313},{"ch":1470,"cts":2465},{"ch":1480,"cts":2530},{"ch":1490,"cts":2563},{"ch":1500,"cts":2552},{"ch":1510,"cts":2498},{"ch":1520,"cts":2313},{"ch":1530,"cts":1747},{"ch":1540,"cts":1115},{"ch":1550,"cts":462},{"ch":1560,"cts":157},{"ch":1570,"cts":113},{"ch":1580,"cts":102},{"ch":1590,"cts":91},{"ch":1600,"cts":48},{"ch":1615,"cts":4},{"ch":1625,"cts":0},{"ch":1676,"cts":0}
    ],
    "d_exp": [
      {"ch":0,"cts":0},{"ch":15,"cts":0},{"ch":30,"cts":0},{"ch":45,"cts":0},{"ch":60,"cts":0},{"ch":75,"cts":0},{"ch":90,"cts":0},{"ch":105,"cts":0},{"ch":120,"cts":0},{"ch":135,"cts":0},{"ch":150,"cts":0},{"ch":165,"cts":0},{"ch":180,"cts":0},{"ch":195,"cts":0},{"ch":210,"cts":0},{"ch":226,"cts":0},
      {"ch":227,"cts":110},{"ch":228,"cts":620},{"ch":229,"cts":460},{"ch":232,"cts":540},{"ch":235,"cts":500},{"ch":238,"cts":525},{"ch":241,"cts":505},{"ch":244,"cts":515},{"ch":247,"cts":490},{"ch":250,"cts":540},{"ch":253,"cts":495},{"ch":256,"cts":515},{"ch":259,"cts":480},{"ch":262,"cts":505},{"ch":265,"cts":475},{"ch":268,"cts":532},{"ch":271,"cts":470},{"ch":274,"cts":495},{"ch":277,"cts":460},{"ch":280,"cts":488},{"ch":284,"cts":455},{"ch":288,"cts":480},{"ch":292,"cts":450},{"ch":296,"cts":470},{"ch":300,"cts":445},{"ch":305,"cts":462},{"ch":310,"cts":438},{"ch":315,"cts":455},{"ch":320,"cts":430},{"ch":325,"cts":448},{"ch":330,"cts":425},{"ch":335,"cts":442},{"ch":340,"cts":418},{"ch":345,"cts":432},{"ch":350,"cts":405},{"ch":355,"cts":428},{"ch":360,"cts":398},{"ch":364,"cts":372},{"ch":368,"cts":430},{"ch":372,"cts":395},{"ch":376,"cts":420},{"ch":380,"cts":388},{"ch":385,"cts":410},{"ch":390,"cts":380},{"ch":395,"cts":400},{"ch":400,"cts":375},{"ch":405,"cts":395},{"ch":410,"cts":370},{"ch":414,"cts":442},{"ch":418,"cts":365},{"ch":422,"cts":385},{"ch":426,"cts":358},{"ch":430,"cts":378},{"ch":435,"cts":352},{"ch":440,"cts":370},{"ch":445,"cts":345},{"ch":450,"cts":388},{"ch":455,"cts":350},{"ch":460,"cts":362},{"ch":465,"cts":340},{"ch":470,"cts":330},{"ch":475,"cts":365},{"ch":480,"cts":380},{"ch":485,"cts":340},{"ch":490,"cts":350},{"ch":495,"cts":330},{"ch":500,"cts":362},{"ch":505,"cts":325},{"ch":510,"cts":345},{"ch":515,"cts":315},{"ch":520,"cts":350},{"ch":525,"cts":320},{"ch":530,"cts":300},{"ch":535,"cts":340},{"ch":540,"cts":318},{"ch":545,"cts":345},{"ch":550,"cts":360},{"ch":555,"cts":320},{"ch":560,"cts":335},{"ch":565,"cts":305},{"ch":570,"cts":372},{"ch":575,"cts":315},{"ch":580,"cts":330},{"ch":585,"cts":305},{"ch":590,"cts":328},{"ch":595,"cts":300},{"ch":600,"cts":322},{"ch":605,"cts":295},{"ch":610,"cts":318},{"ch":615,"cts":290},{"ch":620,"cts":305},{"ch":625,"cts":280},{"ch":630,"cts":312},{"ch":635,"cts":282},{"ch":640,"cts":300},{"ch":645,"cts":322},{"ch":650,"cts":265},{"ch":654,"cts":240},{"ch":658,"cts":215},{"ch":662,"cts":205},{"ch":666,"cts":220},{"ch":670,"cts":200},{"ch":675,"cts":225},{"ch":680,"cts":205},{"ch":685,"cts":230},{"ch":690,"cts":195},{"ch":695,"cts":218},{"ch":700,"cts":200},{"ch":705,"cts":225},{"ch":710,"cts":195},{"ch":715,"cts":215},{"ch":720,"cts":205},{"ch":725,"cts":222},{"ch":730,"cts":188},{"ch":735,"cts":212},{"ch":740,"cts":200},{"ch":745,"cts":218},{"ch":750,"cts":190},{"ch":755,"cts":210},{"ch":760,"cts":198},{"ch":765,"cts":215},{"ch":770,"cts":185},{"ch":775,"cts":205},{"ch":780,"cts":192},{"ch":785,"cts":212},{"ch":790,"cts":182},{"ch":795,"cts":205},{"ch":800,"cts":195},{"ch":805,"cts":250},{"ch":810,"cts":178},{"ch":815,"cts":205},{"ch":820,"cts":185},{"ch":825,"cts":200},{"ch":830,"cts":172},{"ch":835,"cts":195},{"ch":840,"cts":190},{"ch":845,"cts":208},{"ch":850,"cts":170},{"ch":855,"cts":195},{"ch":860,"cts":180},{"ch":865,"cts":200},{"ch":870,"cts":165},{"ch":875,"cts":190},{"ch":880,"cts":178},{"ch":885,"cts":195},{"ch":890,"cts":170},{"ch":895,"cts":188},{"ch":900,"cts":175},{"ch":905,"cts":200},{"ch":910,"cts":160},{"ch":915,"cts":185},{"ch":920,"cts":175},{"ch":925,"cts":190},{"ch":930,"cts":168},{"ch":935,"cts":185},{"ch":940,"cts":210},{"ch":945,"cts":170},{"ch":950,"cts":188},{"ch":955,"cts":165},{"ch":958,"cts":175},{"ch":962,"cts":150},{"ch":966,"cts":120},{"ch":970,"cts":95},{"ch":974,"cts":75},{"ch":978,"cts":68},{"ch":982,"cts":58},{"ch":986,"cts":72},{"ch":990,"cts":65},{"ch":995,"cts":60},{"ch":1000,"cts":70},{"ch":1005,"cts":55},{"ch":1010,"cts":68},{"ch":1015,"cts":50},{"ch":1020,"cts":62},{"ch":1025,"cts":48},{"ch":1030,"cts":66},{"ch":1035,"cts":52},{"ch":1040,"cts":60},{"ch":1045,"cts":48},{"ch":1050,"cts":68},{"ch":1055,"cts":52},{"ch":1060,"cts":58},{"ch":1065,"cts":50},{"ch":1070,"cts":62},{"ch":1075,"cts":55},{"ch":1080,"cts":60},{"ch":1085,"cts":52},{"ch":1090,"cts":95},{"ch":1095,"cts":58},{"ch":1100,"cts":65},{"ch":1105,"cts":55},{"ch":1110,"cts":70},{"ch":1115,"cts":52},{"ch":1120,"cts":72},{"ch":1125,"cts":58},{"ch":1130,"cts":65},{"ch":1135,"cts":50},{"ch":1140,"cts":70},{"ch":1145,"cts":55},{"ch":1150,"cts":62},{"ch":1155,"cts":48},{"ch":1160,"cts":55},{"ch":1165,"cts":40},{"ch":1170,"cts":30},{"ch":1175,"cts":35},{"ch":1180,"cts":25},{"ch":1185,"cts":30},{"ch":1190,"cts":22},{"ch":1195,"cts":28},{"ch":1200,"cts":18},{"ch":1205,"cts":30},{"ch":1210,"cts":22},{"ch":1215,"cts":28},{"ch":1220,"cts":18},{"ch":1225,"cts":30},{"ch":1230,"cts":22},{"ch":1235,"cts":28},{"ch":1240,"cts":20},{"ch":1245,"cts":30},{"ch":1250,"cts":24},{"ch":1255,"cts":28},{"ch":1260,"cts":20},{"ch":1265,"cts":30},{"ch":1270,"cts":28},{"ch":1275,"cts":50},{"ch":1280,"cts":110},{"ch":1284,"cts":160},{"ch":1288,"cts":210},{"ch":1292,"cts":250},{"ch":1296,"cts":275},{"ch":1300,"cts":290},{"ch":1304,"cts":282},{"ch":1308,"cts":300},{"ch":1312,"cts":288},{"ch":1316,"cts":315},{"ch":1320,"cts":300},{"ch":1324,"cts":330},{"ch":1328,"cts":310},{"ch":1332,"cts":345},{"ch":1336,"cts":320},{"ch":1340,"cts":350},{"ch":1344,"cts":330},{"ch":1348,"cts":362},{"ch":1352,"cts":338},{"ch":1356,"cts":355},{"ch":1360,"cts":320},{"ch":1364,"cts":270},{"ch":1368,"cts":200},{"ch":1372,"cts":140},{"ch":1376,"cts":100},{"ch":1380,"cts":82},{"ch":1384,"cts":78},{"ch":1388,"cts":72},{"ch":1392,"cts":65},{"ch":1396,"cts":55},{"ch":1400,"cts":60},{"ch":1405,"cts":48},{"ch":1410,"cts":40},{"ch":1415,"cts":35},{"ch":1420,"cts":30},{"ch":1425,"cts":26},{"ch":1430,"cts":22},{"ch":1440,"cts":15},{"ch":1450,"cts":20},{"ch":1460,"cts":12},{"ch":1470,"cts":22},{"ch":1480,"cts":15},{"ch":1490,"cts":20},{"ch":1500,"cts":18},{"ch":1510,"cts":22},{"ch":1520,"cts":15},{"ch":1530,"cts":20},{"ch":1540,"cts":18},{"ch":1550,"cts":22},{"ch":1560,"cts":20},{"ch":1570,"cts":15},{"ch":1580,"cts":12},{"ch":1590,"cts":8},{"ch":1600,"cts":4},{"ch":1610,"cts":2},{"ch":1625,"cts":2},{"ch":1640,"cts":1},{"ch":1650,"cts":2}
    ],
    "d_sim": [
      {"ch":0,"cts":295},{"ch":2,"cts":465},{"ch":6,"cts":440},{"ch":12,"cts":410},{"ch":20,"cts":375},{"ch":30,"cts":340},{"ch":40,"cts":318},{"ch":47,"cts":311},{"ch":54,"cts":330},{"ch":62,"cts":400},{"ch":70,"cts":500},{"ch":76,"cts":555},{"ch":82,"cts":574},{"ch":90,"cts":565},{"ch":100,"cts":540},{"ch":115,"cts":505},{"ch":130,"cts":478},{"ch":148,"cts":464},{"ch":158,"cts":480},{"ch":168,"cts":505},{"ch":176,"cts":518},{"ch":183,"cts":523},{"ch":192,"cts":518},{"ch":205,"cts":505},{"ch":227,"cts":481},{"ch":250,"cts":460},{"ch":274,"cts":440},{"ch":310,"cts":418},{"ch":355,"cts":395},{"ch":400,"cts":375},{"ch":437,"cts":360},{"ch":495,"cts":337},{"ch":554,"cts":325},{"ch":600,"cts":314},{"ch":635,"cts":300},{"ch":647,"cts":285},{"ch":652,"cts":250},{"ch":658,"cts":216},{"ch":682,"cts":210},{"ch":763,"cts":202},{"ch":833,"cts":193},{"ch":860,"cts":185},{"ch":880,"cts":179},{"ch":915,"cts":181},{"ch":956,"cts":179},{"ch":962,"cts":165},{"ch":967,"cts":150},{"ch":973,"cts":110},{"ch":979,"cts":84},{"ch":996,"cts":69},{"ch":1055,"cts":60},{"ch":1090,"cts":63},{"ch":1125,"cts":52},{"ch":1150,"cts":56},{"ch":1160,"cts":58},{"ch":1170,"cts":45},{"ch":1183,"cts":26},{"ch":1230,"cts":23},{"ch":1270,"cts":26},{"ch":1276,"cts":50},{"ch":1282,"cts":84},{"ch":1288,"cts":120},{"ch":1294,"cts":158},{"ch":1300,"cts":230},{"ch":1305,"cts":268},{"ch":1313,"cts":292},{"ch":1323,"cts":308},{"ch":1340,"cts":334},{"ch":1360,"cts":331},{"ch":1366,"cts":318},{"ch":1370,"cts":302},{"ch":1375,"cts":216},{"ch":1381,"cts":101},{"ch":1387,"cts":78},{"ch":1404,"cts":55},{"ch":1428,"cts":26},{"ch":1474,"cts":17},{"ch":1556,"cts":17},{"ch":1573,"cts":20},{"ch":1590,"cts":10},{"ch":1597,"cts":6},{"ch":1608,"cts":0},{"ch":1650,"cts":0}
    ],
    "e_exp": [
      {"ch":0,"cts":4},{"ch":15,"cts":4},{"ch":30,"cts":4},{"ch":45,"cts":4},{"ch":60,"cts":4},{"ch":75,"cts":4},{"ch":90,"cts":4},{"ch":105,"cts":4},{"ch":120,"cts":4},{"ch":135,"cts":4},{"ch":150,"cts":4},{"ch":165,"cts":4},{"ch":180,"cts":4},{"ch":195,"cts":4},{"ch":210,"cts":4},{"ch":228,"cts":4},
      {"ch":229,"cts":160},{"ch":230,"cts":760},{"ch":232,"cts":780},{"ch":234,"cts":830},{"ch":237,"cts":745},{"ch":240,"cts":800},{"ch":243,"cts":755},{"ch":246,"cts":785},{"ch":249,"cts":730},{"ch":252,"cts":770},{"ch":255,"cts":740},{"ch":258,"cts":760},{"ch":262,"cts":710},{"ch":266,"cts":740},{"ch":270,"cts":700},{"ch":274,"cts":725},{"ch":278,"cts":690},{"ch":282,"cts":715},{"ch":286,"cts":680},{"ch":290,"cts":705},{"ch":295,"cts":672},{"ch":300,"cts":690},{"ch":305,"cts":660},{"ch":310,"cts":675},{"ch":315,"cts":650},{"ch":320,"cts":680},{"ch":325,"cts":640},{"ch":330,"cts":660},{"ch":335,"cts":630},{"ch":340,"cts":655},{"ch":345,"cts":620},{"ch":350,"cts":640},{"ch":355,"cts":600},{"ch":360,"cts":625},{"ch":365,"cts":595},{"ch":370,"cts":620},{"ch":375,"cts":585},{"ch":380,"cts":605},{"ch":385,"cts":575},{"ch":390,"cts":595},{"ch":395,"cts":565},{"ch":400,"cts":612},{"ch":405,"cts":560},{"ch":410,"cts":580},{"ch":415,"cts":545},{"ch":420,"cts":570},{"ch":425,"cts":540},{"ch":430,"cts":560},{"ch":435,"cts":530},{"ch":440,"cts":550},{"ch":445,"cts":520},{"ch":450,"cts":545},{"ch":455,"cts":510},{"ch":460,"cts":535},{"ch":465,"cts":505},{"ch":470,"cts":530},{"ch":475,"cts":495},{"ch":480,"cts":515},{"ch":485,"cts":490},{"ch":490,"cts":520},{"ch":495,"cts":480},{"ch":500,"cts":505},{"ch":505,"cts":478},{"ch":510,"cts":500},{"ch":515,"cts":470},{"ch":520,"cts":495},{"ch":525,"cts":465},{"ch":530,"cts":490},{"ch":535,"cts":460},{"ch":540,"cts":480},{"ch":545,"cts":455},{"ch":550,"cts":478},{"ch":555,"cts":448},{"ch":560,"cts":470},{"ch":565,"cts":440},{"ch":570,"cts":465},{"ch":575,"cts":438},{"ch":580,"cts":460},{"ch":585,"cts":432},{"ch":590,"cts":458},{"ch":595,"cts":428},{"ch":600,"cts":450},{"ch":605,"cts":425},{"ch":610,"cts":460},{"ch":615,"cts":430},{"ch":620,"cts":448},{"ch":625,"cts":420},{"ch":630,"cts":445},{"ch":635,"cts":415},{"ch":640,"cts":440},{"ch":645,"cts":400},{"ch":650,"cts":360},{"ch":655,"cts":330},{"ch":660,"cts":300},{"ch":664,"cts":270},{"ch":668,"cts":330},{"ch":672,"cts":305},{"ch":676,"cts":320},{"ch":680,"cts":300},{"ch":685,"cts":318},{"ch":690,"cts":295},{"ch":695,"cts":315},{"ch":700,"cts":290},{"ch":705,"cts":320},{"ch":710,"cts":285},{"ch":715,"cts":310},{"ch":720,"cts":290},{"ch":725,"cts":315},{"ch":730,"cts":280},{"ch":735,"cts":305},{"ch":740,"cts":285},{"ch":745,"cts":310},{"ch":750,"cts":280},{"ch":755,"cts":300},{"ch":760,"cts":290},{"ch":765,"cts":320},{"ch":770,"cts":270},{"ch":775,"cts":300},{"ch":780,"cts":278},{"ch":785,"cts":298},{"ch":790,"cts":270},{"ch":795,"cts":292},{"ch":800,"cts":265},{"ch":805,"cts":290},{"ch":810,"cts":262},{"ch":815,"cts":285},{"ch":820,"cts":255},{"ch":825,"cts":280},{"ch":830,"cts":250},{"ch":835,"cts":278},{"ch":840,"cts":255},{"ch":845,"cts":272},{"ch":850,"cts":245},{"ch":855,"cts":270},{"ch":860,"cts":250},{"ch":865,"cts":265},{"ch":870,"cts":240},{"ch":875,"cts":262},{"ch":880,"cts":248},{"ch":885,"cts":268},{"ch":890,"cts":240},{"ch":895,"cts":265},{"ch":900,"cts":245},{"ch":905,"cts":270},{"ch":910,"cts":250},{"ch":915,"cts":262},{"ch":920,"cts":245},{"ch":925,"cts":268},{"ch":930,"cts":250},{"ch":935,"cts":260},{"ch":940,"cts":242},{"ch":945,"cts":255},{"ch":950,"cts":230},{"ch":955,"cts":195},{"ch":960,"cts":150},{"ch":965,"cts":120},{"ch":970,"cts":105},{"ch":975,"cts":95},{"ch":980,"cts":110},{"ch":985,"cts":88},{"ch":990,"cts":108},{"ch":995,"cts":85},{"ch":1000,"cts":100},{"ch":1005,"cts":82},{"ch":1010,"cts":102},{"ch":1015,"cts":85},{"ch":1020,"cts":98},{"ch":1025,"cts":80},{"ch":1030,"cts":105},{"ch":1035,"cts":85},{"ch":1040,"cts":98},{"ch":1045,"cts":82},{"ch":1050,"cts":100},{"ch":1055,"cts":85},{"ch":1060,"cts":95},{"ch":1065,"cts":80},{"ch":1070,"cts":98},{"ch":1075,"cts":85},{"ch":1080,"cts":100},{"ch":1085,"cts":82},{"ch":1090,"cts":105},{"ch":1095,"cts":88},{"ch":1100,"cts":100},{"ch":1105,"cts":85},{"ch":1110,"cts":112},{"ch":1115,"cts":92},{"ch":1120,"cts":118},{"ch":1125,"cts":95},{"ch":1130,"cts":100},{"ch":1135,"cts":85},{"ch":1140,"cts":80},{"ch":1145,"cts":68},{"ch":1150,"cts":65},{"ch":1155,"cts":52},{"ch":1160,"cts":50},{"ch":1165,"cts":38},{"ch":1170,"cts":42},{"ch":1175,"cts":30},{"ch":1180,"cts":45},{"ch":1185,"cts":32},{"ch":1190,"cts":40},{"ch":1195,"cts":30},{"ch":1200,"cts":42},{"ch":1205,"cts":28},{"ch":1210,"cts":38},{"ch":1215,"cts":30},{"ch":1220,"cts":42},{"ch":1225,"cts":32},{"ch":1230,"cts":40},{"ch":1235,"cts":28},{"ch":1240,"cts":42},{"ch":1245,"cts":35},{"ch":1250,"cts":40},{"ch":1255,"cts":45},{"ch":1260,"cts":55},{"ch":1265,"cts":70},{"ch":1270,"cts":100},{"ch":1275,"cts":150},{"ch":1280,"cts":220},{"ch":1284,"cts":280},{"ch":1288,"cts":330},{"ch":1292,"cts":380},{"ch":1296,"cts":405},{"ch":1300,"cts":420},{"ch":1304,"cts":440},{"ch":1308,"cts":425},{"ch":1312,"cts":460},{"ch":1316,"cts":440},{"ch":1320,"cts":470},{"ch":1324,"cts":445},{"ch":1328,"cts":480},{"ch":1332,"cts":455},{"ch":1336,"cts":490},{"ch":1340,"cts":465},{"ch":1344,"cts":500},{"ch":1348,"cts":470},{"ch":1352,"cts":480},{"ch":1356,"cts":445},{"ch":1360,"cts":380},{"ch":1364,"cts":300},{"ch":1368,"cts":220},{"ch":1372,"cts":160},{"ch":1376,"cts":125},{"ch":1380,"cts":105},{"ch":1384,"cts":90},{"ch":1388,"cts":105},{"ch":1392,"cts":85},{"ch":1396,"cts":95},{"ch":1400,"cts":75},{"ch":1405,"cts":65},{"ch":1410,"cts":55},{"ch":1415,"cts":45},{"ch":1420,"cts":40},{"ch":1425,"cts":35},{"ch":1430,"cts":32},{"ch":1440,"cts":28},{"ch":1450,"cts":32},{"ch":1460,"cts":26},{"ch":1470,"cts":30},{"ch":1480,"cts":25},{"ch":1490,"cts":32},{"ch":1500,"cts":26},{"ch":1510,"cts":30},{"ch":1520,"cts":25},{"ch":1530,"cts":30},{"ch":1540,"cts":28},{"ch":1550,"cts":32},{"ch":1555,"cts":26},{"ch":1560,"cts":30},{"ch":1565,"cts":25},{"ch":1570,"cts":20},{"ch":1575,"cts":18},{"ch":1580,"cts":14},{"ch":1585,"cts":10},{"ch":1590,"cts":7},{"ch":1595,"cts":5},{"ch":1600,"cts":4},{"ch":1615,"cts":3},{"ch":1630,"cts":3},{"ch":1645,"cts":4},{"ch":1660,"cts":6},{"ch":1675,"cts":4},{"ch":1690,"cts":4}
    ],
    "e_sim": [
      {"ch":0,"cts":0},{"ch":1,"cts":792},{"ch":8,"cts":760},{"ch":16,"cts":720},{"ch":24,"cts":690},{"ch":32,"cts":673},{"ch":40,"cts":690},{"ch":50,"cts":760},{"ch":60,"cts":830},{"ch":71,"cts":869},{"ch":84,"cts":840},{"ch":98,"cts":792},{"ch":115,"cts":755},{"ch":132,"cts":737},{"ch":150,"cts":748},{"ch":167,"cts":768},{"ch":180,"cts":752},{"ch":194,"cts":724},{"ch":224,"cts":686},{"ch":266,"cts":648},{"ch":308,"cts":601},{"ch":362,"cts":558},{"ch":422,"cts":520},{"ch":476,"cts":486},{"ch":518,"cts":482},{"ch":566,"cts":464},{"ch":614,"cts":443},{"ch":641,"cts":430},{"ch":646,"cts":400},{"ch":650,"cts":366},{"ch":656,"cts":330},{"ch":662,"cts":307},{"ch":722,"cts":298},{"ch":794,"cts":285},{"ch":842,"cts":273},{"ch":878,"cts":264},{"ch":926,"cts":264},{"ch":948,"cts":251},{"ch":952,"cts":230},{"ch":956,"cts":204},{"ch":962,"cts":170},{"ch":968,"cts":136},{"ch":980,"cts":115},{"ch":998,"cts":102},{"ch":1058,"cts":89},{"ch":1118,"cts":89},{"ch":1142,"cts":77},{"ch":1154,"cts":55},{"ch":1166,"cts":34},{"ch":1190,"cts":38},{"ch":1238,"cts":34},{"ch":1262,"cts":47},{"ch":1268,"cts":75},{"ch":1274,"cts":111},{"ch":1280,"cts":190},{"ch":1286,"cts":281},{"ch":1298,"cts":366},{"ch":1310,"cts":420},{"ch":1322,"cts":443},{"ch":1340,"cts":460},{"ch":1352,"cts":469},{"ch":1358,"cts":435},{"ch":1361,"cts":360},{"ch":1364,"cts":281},{"ch":1370,"cts":180},{"ch":1376,"cts":111},{"ch":1388,"cts":77},{"ch":1406,"cts":60},{"ch":1418,"cts":42},{"ch":1430,"cts":30},{"ch":1502,"cts":21},{"ch":1550,"cts":21},{"ch":1568,"cts":17},{"ch":1586,"cts":4},{"ch":1598,"cts":0},{"ch":1700,"cts":0}
    ],
    "f_exp": [
      {"ch":0,"cts":0},{"ch":15,"cts":0},{"ch":30,"cts":0},{"ch":45,"cts":0},{"ch":60,"cts":0},{"ch":75,"cts":0},{"ch":90,"cts":0},{"ch":105,"cts":0},{"ch":120,"cts":0},{"ch":135,"cts":0},{"ch":150,"cts":0},{"ch":165,"cts":0},{"ch":180,"cts":0},{"ch":195,"cts":0},{"ch":210,"cts":0},{"ch":226,"cts":0},
      {"ch":227,"cts":100},{"ch":228,"cts":560},{"ch":230,"cts":420},{"ch":232,"cts":520},{"ch":234,"cts":495},{"ch":236,"cts":535},{"ch":238,"cts":505},{"ch":240,"cts":525},{"ch":242,"cts":490},{"ch":245,"cts":515},{"ch":248,"cts":480},{"ch":251,"cts":505},{"ch":254,"cts":475},{"ch":257,"cts":520},{"ch":260,"cts":500},{"ch":263,"cts":470},{"ch":266,"cts":530},{"ch":269,"cts":485},{"ch":272,"cts":495},{"ch":275,"cts":460},{"ch":278,"cts":480},{"ch":282,"cts":455},{"ch":286,"cts":470},{"ch":290,"cts":448},{"ch":294,"cts":465},{"ch":298,"cts":440},{"ch":302,"cts":470},{"ch":306,"cts":430},{"ch":310,"cts":455},{"ch":314,"cts":478},{"ch":318,"cts":425},{"ch":322,"cts":462},{"ch":326,"cts":430},{"ch":330,"cts":360},{"ch":334,"cts":450},{"ch":338,"cts":415},{"ch":342,"cts":440},{"ch":346,"cts":405},{"ch":350,"cts":432},{"ch":355,"cts":395},{"ch":360,"cts":425},{"ch":365,"cts":390},{"ch":370,"cts":418},{"ch":375,"cts":385},{"ch":380,"cts":410},{"ch":385,"cts":375},{"ch":390,"cts":405},{"ch":395,"cts":372},{"ch":400,"cts":398},{"ch":405,"cts":365},{"ch":410,"cts":392},{"ch":415,"cts":360},{"ch":420,"cts":335},{"ch":425,"cts":388},{"ch":430,"cts":355},{"ch":435,"cts":380},{"ch":440,"cts":350},{"ch":445,"cts":372},{"ch":450,"cts":405},{"ch":455,"cts":345},{"ch":460,"cts":370},{"ch":465,"cts":340},{"ch":470,"cts":380},{"ch":475,"cts":330},{"ch":480,"cts":320},{"ch":485,"cts":362},{"ch":490,"cts":335},{"ch":495,"cts":355},{"ch":500,"cts":328},{"ch":505,"cts":345},{"ch":510,"cts":322},{"ch":515,"cts":355},{"ch":520,"cts":318},{"ch":525,"cts":340},{"ch":530,"cts":312},{"ch":535,"cts":372},{"ch":540,"cts":305},{"ch":545,"cts":338},{"ch":550,"cts":315},{"ch":555,"cts":342},{"ch":560,"cts":310},{"ch":565,"cts":332},{"ch":570,"cts":262},{"ch":575,"cts":365},{"ch":580,"cts":320},{"ch":585,"cts":335},{"ch":590,"cts":300},{"ch":595,"cts":330},{"ch":600,"cts":305},{"ch":605,"cts":342},{"ch":610,"cts":298},{"ch":615,"cts":318},{"ch":620,"cts":292},{"ch":625,"cts":328},{"ch":630,"cts":285},{"ch":635,"cts":310},{"ch":640,"cts":322},{"ch":645,"cts":275},{"ch":650,"cts":255},{"ch":654,"cts":230},{"ch":658,"cts":210},{"ch":662,"cts":190},{"ch":666,"cts":222},{"ch":670,"cts":200},{"ch":674,"cts":228},{"ch":678,"cts":190},{"ch":682,"cts":215},{"ch":686,"cts":195},{"ch":690,"cts":225},{"ch":695,"cts":200},{"ch":700,"cts":218},{"ch":705,"cts":190},{"ch":710,"cts":230},{"ch":715,"cts":198},{"ch":720,"cts":215},{"ch":725,"cts":180},{"ch":730,"cts":220},{"ch":735,"cts":195},{"ch":740,"cts":215},{"ch":745,"cts":185},{"ch":750,"cts":235},{"ch":755,"cts":200},{"ch":760,"cts":228},{"ch":765,"cts":195},{"ch":770,"cts":220},{"ch":775,"cts":185},{"ch":780,"cts":212},{"ch":785,"cts":188},{"ch":790,"cts":218},{"ch":795,"cts":180},{"ch":800,"cts":210},{"ch":805,"cts":172},{"ch":810,"cts":215},{"ch":815,"cts":185},{"ch":820,"cts":205},{"ch":825,"cts":170},{"ch":830,"cts":202},{"ch":835,"cts":178},{"ch":840,"cts":210},{"ch":845,"cts":182},{"ch":850,"cts":200},{"ch":855,"cts":165},{"ch":860,"cts":195},{"ch":865,"cts":172},{"ch":870,"cts":205},{"ch":875,"cts":160},{"ch":880,"cts":198},{"ch":885,"cts":175},{"ch":890,"cts":212},{"ch":895,"cts":168},{"ch":900,"cts":192},{"ch":905,"cts":170},{"ch":910,"cts":212},{"ch":915,"cts":178},{"ch":920,"cts":195},{"ch":925,"cts":165},{"ch":930,"cts":190},{"ch":935,"cts":170},{"ch":940,"cts":185},{"ch":945,"cts":160},{"ch":950,"cts":188},{"ch":955,"cts":175},{"ch":960,"cts":150},{"ch":964,"cts":130},{"ch":968,"cts":110},{"ch":972,"cts":95},{"ch":976,"cts":82},{"ch":980,"cts":75},{"ch":985,"cts":82},{"ch":990,"cts":70},{"ch":995,"cts":78},{"ch":1000,"cts":62},{"ch":1005,"cts":75},{"ch":1010,"cts":60},{"ch":1015,"cts":72},{"ch":1020,"cts":58},{"ch":1025,"cts":68},{"ch":1030,"cts":55},{"ch":1035,"cts":70},{"ch":1040,"cts":60},{"ch":1045,"cts":78},{"ch":1050,"cts":62},{"ch":1055,"cts":68},{"ch":1060,"cts":55},{"ch":1065,"cts":70},{"ch":1070,"cts":58},{"ch":1075,"cts":65},{"ch":1080,"cts":52},{"ch":1085,"cts":72},{"ch":1090,"cts":62},{"ch":1095,"cts":76},{"ch":1100,"cts":58},{"ch":1105,"cts":72},{"ch":1110,"cts":62},{"ch":1115,"cts":70},{"ch":1120,"cts":48},{"ch":1125,"cts":65},{"ch":1130,"cts":52},{"ch":1135,"cts":62},{"ch":1140,"cts":45},{"ch":1145,"cts":58},{"ch":1150,"cts":48},{"ch":1155,"cts":55},{"ch":1160,"cts":38},{"ch":1165,"cts":30},{"ch":1170,"cts":35},{"ch":1175,"cts":25},{"ch":1180,"cts":32},{"ch":1185,"cts":22},{"ch":1190,"cts":30},{"ch":1195,"cts":18},{"ch":1200,"cts":35},{"ch":1205,"cts":25},{"ch":1210,"cts":32},{"ch":1215,"cts":24},{"ch":1220,"cts":38},{"ch":1225,"cts":26},{"ch":1230,"cts":34},{"ch":1235,"cts":25},{"ch":1240,"cts":36},{"ch":1245,"cts":28},{"ch":1250,"cts":34},{"ch":1255,"cts":28},{"ch":1260,"cts":32},{"ch":1265,"cts":35},{"ch":1270,"cts":42},{"ch":1274,"cts":60},{"ch":1278,"cts":100},{"ch":1282,"cts":150},{"ch":1286,"cts":200},{"ch":1290,"cts":240},{"ch":1294,"cts":265},{"ch":1298,"cts":290},{"ch":1302,"cts":300},{"ch":1306,"cts":280},{"ch":1310,"cts":320},{"ch":1314,"cts":295},{"ch":1318,"cts":345},{"ch":1322,"cts":305},{"ch":1326,"cts":325},{"ch":1330,"cts":270},{"ch":1334,"cts":330},{"ch":1338,"cts":315},{"ch":1342,"cts":370},{"ch":1346,"cts":325},{"ch":1350,"cts":338},{"ch":1354,"cts":315},{"ch":1358,"cts":270},{"ch":1362,"cts":210},{"ch":1366,"cts":150},{"ch":1370,"cts":100},{"ch":1374,"cts":80},{"ch":1378,"cts":65},{"ch":1382,"cts":62},{"ch":1386,"cts":58},{"ch":1390,"cts":55},{"ch":1394,"cts":50},{"ch":1398,"cts":42},{"ch":1402,"cts":35},{"ch":1406,"cts":28},{"ch":1410,"cts":24},{"ch":1415,"cts":20},{"ch":1420,"cts":22},{"ch":1430,"cts":18},{"ch":1440,"cts":22},{"ch":1450,"cts":18},{"ch":1460,"cts":24},{"ch":1470,"cts":18},{"ch":1480,"cts":25},{"ch":1490,"cts":20},{"ch":1500,"cts":22},{"ch":1510,"cts":28},{"ch":1520,"cts":22},{"ch":1530,"cts":20},{"ch":1540,"cts":24},{"ch":1550,"cts":20},{"ch":1555,"cts":22},{"ch":1560,"cts":16},{"ch":1565,"cts":18},{"ch":1570,"cts":12},{"ch":1575,"cts":10},{"ch":1580,"cts":8},{"ch":1585,"cts":6},{"ch":1590,"cts":4},{"ch":1595,"cts":3},{"ch":1600,"cts":2},{"ch":1610,"cts":1},{"ch":1620,"cts":2},{"ch":1635,"cts":1},{"ch":1649,"cts":2}
    ],
    "f_sim": [
      {"ch":0,"cts":0},{"ch":1,"cts":460},{"ch":10,"cts":420},{"ch":20,"cts":385},{"ch":29,"cts":356},{"ch":40,"cts":320},{"ch":50,"cts":292},{"ch":59,"cts":280},{"ch":66,"cts":310},{"ch":72,"cts":350},{"ch":78,"cts":400},{"ch":86,"cts":470},{"ch":92,"cts":505},{"ch":97,"cts":524},{"ch":105,"cts":515},{"ch":115,"cts":498},{"ch":123,"cts":486},{"ch":135,"cts":465},{"ch":150,"cts":445},{"ch":164,"cts":430},{"ch":172,"cts":445},{"ch":182,"cts":472},{"ch":192,"cts":492},{"ch":202,"cts":499},{"ch":212,"cts":496},{"ch":223,"cts":488},{"ch":240,"cts":470},{"ch":264,"cts":450},{"ch":305,"cts":428},{"ch":358,"cts":401},{"ch":417,"cts":370},{"ch":464,"cts":352},{"ch":499,"cts":334},{"ch":546,"cts":327},{"ch":593,"cts":320},{"ch":622,"cts":302},{"ch":640,"cts":298},{"ch":645,"cts":285},{"ch":649,"cts":267},{"ch":653,"cts":240},{"ch":657,"cts":218},{"ch":687,"cts":211},{"ch":757,"cts":202},{"ch":816,"cts":193},{"ch":851,"cts":184},{"ch":898,"cts":184},{"ch":951,"cts":175},{"ch":955,"cts":165},{"ch":959,"cts":146},{"ch":964,"cts":110},{"ch":968,"cts":84},{"ch":986,"cts":72},{"ch":1039,"cts":66},{"ch":1074,"cts":66},{"ch":1097,"cts":68},{"ch":1110,"cts":60},{"ch":1121,"cts":52},{"ch":1150,"cts":52},{"ch":1160,"cts":40},{"ch":1168,"cts":25},{"ch":1191,"cts":25},{"ch":1227,"cts":30},{"ch":1268,"cts":32},{"ch":1272,"cts":50},{"ch":1276,"cts":70},{"ch":1280,"cts":110},{"ch":1285,"cts":160},{"ch":1290,"cts":205},{"ch":1295,"cts":249},{"ch":1309,"cts":285},{"ch":1326,"cts":316},{"ch":1340,"cts":316},{"ch":1350,"cts":311},{"ch":1358,"cts":300},{"ch":1362,"cts":294},{"ch":1366,"cts":230},{"ch":1370,"cts":160},{"ch":1375,"cts":110},{"ch":1379,"cts":70},{"ch":1391,"cts":57},{"ch":1402,"cts":40},{"ch":1414,"cts":25},{"ch":1438,"cts":21},{"ch":1532,"cts":17},{"ch":1555,"cts":19},{"ch":1567,"cts":15},{"ch":1579,"cts":10},{"ch":1590,"cts":5},{"ch":1602,"cts":1},{"ch":1612,"cts":0},{"ch":1649,"cts":0}
    ]
  },
  "config": {
    "view": {"stroke": "#000000", "strokeWidth": 3},
    "axis": {
      "labelFont": "Liberation Sans",
      "labelFontSize": 22,
      "labelColor": "#333333",
      "labelPadding": 3,
      "labelOverlap": false,
      "labelFlush": false,
      "tickColor": "#000000",
      "tickWidth": 2,
      "tickSize": 9,
      "domainColor": "#000000",
      "domainWidth": 3,
      "grid": false,
      "titleFont": "Liberation Serif",
      "titleFontWeight": "bold",
      "titleFontSize": 62,
      "titleColor": "#000000",
      "zindex": 1
    },
    "text": {"font": "Liberation Serif", "fontWeight": "bold", "color": "#000000"}
  }
}
